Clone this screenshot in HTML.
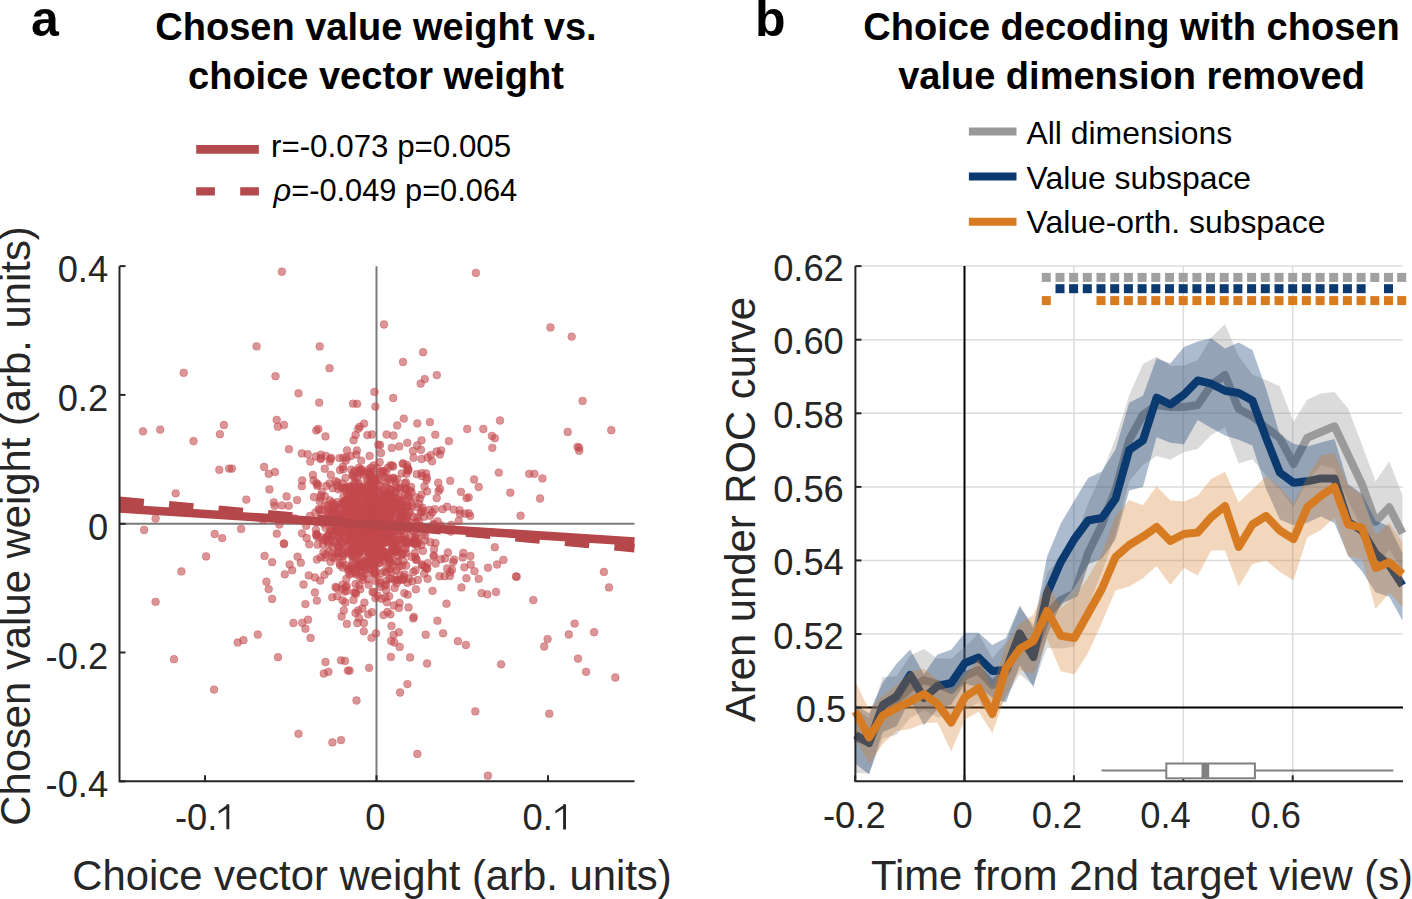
<!DOCTYPE html>
<html><head><meta charset="utf-8"><style>
html,body{margin:0;padding:0;background:#fff;width:1412px;height:899px;overflow:hidden}
svg{display:block}
text{font-family:'Liberation Sans', sans-serif}
</style></head><body>
<svg width="1412" height="899" viewBox="0 0 1412 899">
<rect width="1412" height="899" fill="#fff"/>
<text x="31" y="36" font-size="50" font-weight="bold" fill="#000">a</text>
<text x="376" y="40" font-size="38" font-weight="bold" text-anchor="middle" fill="#000">Chosen value weight vs.</text>
<text x="376" y="89" font-size="38" font-weight="bold" text-anchor="middle" fill="#000">choice vector weight</text>
<line x1="196.2" y1="149.4" x2="258.9" y2="149.4" stroke="#b34a4e" stroke-width="8.6"/>
<line x1="196.2" y1="191.3" x2="258.9" y2="191.3" stroke="#b34a4e" stroke-width="8.2" stroke-dasharray="18.7 25.3"/>
<text x="271" y="157" font-size="31.3" fill="#000">r=-0.073 p=0.005</text>
<text x="273.5" y="201" font-size="30.8" fill="#000"><tspan font-style="italic">&#961;</tspan>=-0.049 p=0.064</text>
<line x1="119.5" y1="523.75" x2="634.5" y2="523.75" stroke="#7a7a7a" stroke-width="2"/>
<line x1="376.5" y1="266.2" x2="376.5" y2="781.3" stroke="#7a7a7a" stroke-width="2"/>
<g fill="rgba(194,72,76,0.58)" stroke="rgba(194,72,76,0.35)" stroke-width="1">
<circle cx="281.9" cy="271.7" r="3.9"/>
<circle cx="475.9" cy="272.9" r="3.9"/>
<circle cx="384.0" cy="324.5" r="3.9"/>
<circle cx="550.5" cy="327.4" r="3.9"/>
<circle cx="571.7" cy="336.6" r="3.9"/>
<circle cx="256.6" cy="346.4" r="3.9"/>
<circle cx="319.7" cy="346.4" r="3.9"/>
<circle cx="329.5" cy="368.2" r="3.9"/>
<circle cx="183.7" cy="372.8" r="3.9"/>
<circle cx="275.5" cy="376.2" r="3.9"/>
<circle cx="424.8" cy="379.1" r="3.9"/>
<circle cx="436.8" cy="375.1" r="3.9"/>
<circle cx="582.6" cy="400.9" r="3.9"/>
<circle cx="319.2" cy="402.6" r="3.9"/>
<circle cx="357.1" cy="403.8" r="3.9"/>
<circle cx="393.2" cy="398.0" r="3.9"/>
<circle cx="375.4" cy="406.6" r="3.9"/>
<circle cx="276.7" cy="419.8" r="3.9"/>
<circle cx="277.8" cy="426.7" r="3.9"/>
<circle cx="223.9" cy="425.0" r="3.9"/>
<circle cx="219.9" cy="434.2" r="3.9"/>
<circle cx="143.0" cy="431.3" r="3.9"/>
<circle cx="160.2" cy="429.6" r="3.9"/>
<circle cx="193.5" cy="441.1" r="3.9"/>
<circle cx="611.3" cy="430.2" r="3.9"/>
<circle cx="567.7" cy="431.9" r="3.9"/>
<circle cx="577.5" cy="446.8" r="3.9"/>
<circle cx="579.2" cy="450.8" r="3.9"/>
<circle cx="483.3" cy="429.0" r="3.9"/>
<circle cx="491.9" cy="435.9" r="3.9"/>
<circle cx="494.8" cy="438.2" r="3.9"/>
<circle cx="448.9" cy="441.1" r="3.9"/>
<circle cx="429.9" cy="422.1" r="3.9"/>
<circle cx="231.9" cy="468.6" r="3.9"/>
<circle cx="229.1" cy="468.6" r="3.9"/>
<circle cx="219.3" cy="469.8" r="3.9"/>
<circle cx="264.1" cy="466.9" r="3.9"/>
<circle cx="268.7" cy="473.8" r="3.9"/>
<circle cx="175.7" cy="493.3" r="3.9"/>
<circle cx="246.3" cy="499.6" r="3.9"/>
<circle cx="273.8" cy="502.5" r="3.9"/>
<circle cx="529.2" cy="473.8" r="3.9"/>
<circle cx="534.4" cy="473.8" r="3.9"/>
<circle cx="542.4" cy="478.4" r="3.9"/>
<circle cx="540.1" cy="498.5" r="3.9"/>
<circle cx="520.6" cy="515.7" r="3.9"/>
<circle cx="498.8" cy="472.6" r="3.9"/>
<circle cx="510.3" cy="492.7" r="3.9"/>
<circle cx="474.1" cy="479.5" r="3.9"/>
<circle cx="478.7" cy="487.0" r="3.9"/>
<circle cx="155.6" cy="518.5" r="3.9"/>
<circle cx="144.1" cy="530.0" r="3.9"/>
<circle cx="214.7" cy="534.0" r="3.9"/>
<circle cx="222.2" cy="538.1" r="3.9"/>
<circle cx="241.1" cy="528.9" r="3.9"/>
<circle cx="206.1" cy="556.4" r="3.9"/>
<circle cx="181.4" cy="571.4" r="3.9"/>
<circle cx="264.6" cy="555.9" r="3.9"/>
<circle cx="272.1" cy="562.2" r="3.9"/>
<circle cx="292.2" cy="570.2" r="3.9"/>
<circle cx="155.6" cy="601.8" r="3.9"/>
<circle cx="266.4" cy="581.7" r="3.9"/>
<circle cx="268.7" cy="589.1" r="3.9"/>
<circle cx="272.1" cy="598.9" r="3.9"/>
<circle cx="257.8" cy="634.5" r="3.9"/>
<circle cx="237.7" cy="642.5" r="3.9"/>
<circle cx="243.4" cy="640.2" r="3.9"/>
<circle cx="174.0" cy="659.2" r="3.9"/>
<circle cx="214.1" cy="689.6" r="3.9"/>
<circle cx="305.4" cy="628.7" r="3.9"/>
<circle cx="310.6" cy="637.9" r="3.9"/>
<circle cx="325.5" cy="662.0" r="3.9"/>
<circle cx="323.8" cy="673.5" r="3.9"/>
<circle cx="328.4" cy="671.8" r="3.9"/>
<circle cx="341.0" cy="660.3" r="3.9"/>
<circle cx="345.0" cy="660.9" r="3.9"/>
<circle cx="347.9" cy="670.6" r="3.9"/>
<circle cx="349.6" cy="670.6" r="3.9"/>
<circle cx="369.1" cy="667.8" r="3.9"/>
<circle cx="356.5" cy="700.5" r="3.9"/>
<circle cx="298.5" cy="733.8" r="3.9"/>
<circle cx="332.4" cy="742.4" r="3.9"/>
<circle cx="341.0" cy="740.1" r="3.9"/>
<circle cx="400.1" cy="692.5" r="3.9"/>
<circle cx="417.3" cy="753.9" r="3.9"/>
<circle cx="487.9" cy="775.7" r="3.9"/>
<circle cx="475.3" cy="711.4" r="3.9"/>
<circle cx="549.3" cy="713.7" r="3.9"/>
<circle cx="501.1" cy="664.3" r="3.9"/>
<circle cx="544.2" cy="646.5" r="3.9"/>
<circle cx="547.6" cy="639.1" r="3.9"/>
<circle cx="568.8" cy="634.5" r="3.9"/>
<circle cx="594.1" cy="632.2" r="3.9"/>
<circle cx="574.6" cy="623.6" r="3.9"/>
<circle cx="578.0" cy="658.6" r="3.9"/>
<circle cx="586.1" cy="671.8" r="3.9"/>
<circle cx="615.3" cy="677.5" r="3.9"/>
<circle cx="609.0" cy="587.4" r="3.9"/>
<circle cx="603.9" cy="571.9" r="3.9"/>
<circle cx="533.3" cy="600.1" r="3.9"/>
<circle cx="516.0" cy="576.5" r="3.9"/>
<circle cx="503.4" cy="559.9" r="3.9"/>
<circle cx="494.8" cy="547.2" r="3.9"/>
<circle cx="497.1" cy="564.5" r="3.9"/>
<circle cx="478.7" cy="578.8" r="3.9"/>
<circle cx="481.6" cy="593.2" r="3.9"/>
<circle cx="487.3" cy="594.3" r="3.9"/>
<circle cx="496.0" cy="592.0" r="3.9"/>
<circle cx="461.5" cy="587.4" r="3.9"/>
<circle cx="437.4" cy="620.7" r="3.9"/>
<circle cx="443.1" cy="633.3" r="3.9"/>
<circle cx="413.3" cy="618.4" r="3.9"/>
<circle cx="391.5" cy="625.9" r="3.9"/>
<circle cx="398.9" cy="632.2" r="3.9"/>
<circle cx="394.4" cy="642.5" r="3.9"/>
<circle cx="390.9" cy="656.9" r="3.9"/>
<circle cx="376.0" cy="633.3" r="3.9"/>
<circle cx="363.9" cy="623.0" r="3.9"/>
<circle cx="358.2" cy="610.4" r="3.9"/>
<circle cx="343.8" cy="610.4" r="3.9"/>
<circle cx="316.9" cy="600.6" r="3.9"/>
<circle cx="305.4" cy="604.1" r="3.9"/>
<circle cx="470.7" cy="564.5" r="3.9"/>
<circle cx="464.4" cy="567.3" r="3.9"/>
<circle cx="450.0" cy="575.9" r="3.9"/>
<circle cx="447.2" cy="568.5" r="3.9"/>
<circle cx="374.5" cy="518.5" r="3.9"/>
<circle cx="380.8" cy="537.0" r="3.9"/>
<circle cx="368.7" cy="541.2" r="3.9"/>
<circle cx="355.8" cy="497.5" r="3.9"/>
<circle cx="365.0" cy="519.3" r="3.9"/>
<circle cx="353.7" cy="546.3" r="3.9"/>
<circle cx="375.8" cy="530.7" r="3.9"/>
<circle cx="402.6" cy="527.2" r="3.9"/>
<circle cx="364.2" cy="561.5" r="3.9"/>
<circle cx="361.5" cy="508.0" r="3.9"/>
<circle cx="384.8" cy="526.2" r="3.9"/>
<circle cx="382.0" cy="511.8" r="3.9"/>
<circle cx="376.7" cy="560.0" r="3.9"/>
<circle cx="355.0" cy="477.4" r="3.9"/>
<circle cx="373.9" cy="508.2" r="3.9"/>
<circle cx="389.1" cy="511.6" r="3.9"/>
<circle cx="346.3" cy="540.2" r="3.9"/>
<circle cx="364.9" cy="538.8" r="3.9"/>
<circle cx="334.6" cy="557.7" r="3.9"/>
<circle cx="347.4" cy="486.5" r="3.9"/>
<circle cx="335.8" cy="542.3" r="3.9"/>
<circle cx="369.6" cy="517.2" r="3.9"/>
<circle cx="347.9" cy="508.3" r="3.9"/>
<circle cx="380.2" cy="537.2" r="3.9"/>
<circle cx="377.8" cy="502.2" r="3.9"/>
<circle cx="370.6" cy="474.4" r="3.9"/>
<circle cx="321.6" cy="515.4" r="3.9"/>
<circle cx="363.2" cy="488.3" r="3.9"/>
<circle cx="373.5" cy="508.7" r="3.9"/>
<circle cx="376.9" cy="533.2" r="3.9"/>
<circle cx="342.4" cy="531.7" r="3.9"/>
<circle cx="364.5" cy="562.3" r="3.9"/>
<circle cx="354.0" cy="519.5" r="3.9"/>
<circle cx="357.5" cy="487.5" r="3.9"/>
<circle cx="396.8" cy="506.1" r="3.9"/>
<circle cx="357.5" cy="502.2" r="3.9"/>
<circle cx="373.8" cy="495.0" r="3.9"/>
<circle cx="393.1" cy="534.7" r="3.9"/>
<circle cx="362.2" cy="508.8" r="3.9"/>
<circle cx="372.2" cy="476.8" r="3.9"/>
<circle cx="376.8" cy="541.0" r="3.9"/>
<circle cx="375.8" cy="521.6" r="3.9"/>
<circle cx="348.8" cy="532.8" r="3.9"/>
<circle cx="376.1" cy="526.8" r="3.9"/>
<circle cx="403.0" cy="539.4" r="3.9"/>
<circle cx="342.0" cy="525.2" r="3.9"/>
<circle cx="392.5" cy="553.9" r="3.9"/>
<circle cx="377.0" cy="534.4" r="3.9"/>
<circle cx="361.0" cy="533.7" r="3.9"/>
<circle cx="416.5" cy="534.1" r="3.9"/>
<circle cx="390.5" cy="489.3" r="3.9"/>
<circle cx="349.3" cy="520.3" r="3.9"/>
<circle cx="376.1" cy="518.0" r="3.9"/>
<circle cx="386.6" cy="529.2" r="3.9"/>
<circle cx="370.5" cy="491.6" r="3.9"/>
<circle cx="388.8" cy="563.5" r="3.9"/>
<circle cx="373.1" cy="526.8" r="3.9"/>
<circle cx="388.5" cy="495.2" r="3.9"/>
<circle cx="404.7" cy="483.2" r="3.9"/>
<circle cx="360.3" cy="517.5" r="3.9"/>
<circle cx="378.8" cy="522.1" r="3.9"/>
<circle cx="364.8" cy="507.0" r="3.9"/>
<circle cx="377.2" cy="526.5" r="3.9"/>
<circle cx="349.6" cy="508.9" r="3.9"/>
<circle cx="362.3" cy="537.5" r="3.9"/>
<circle cx="370.4" cy="506.9" r="3.9"/>
<circle cx="393.4" cy="523.3" r="3.9"/>
<circle cx="398.5" cy="547.7" r="3.9"/>
<circle cx="346.7" cy="586.0" r="3.9"/>
<circle cx="357.8" cy="500.1" r="3.9"/>
<circle cx="388.1" cy="513.1" r="3.9"/>
<circle cx="332.7" cy="504.1" r="3.9"/>
<circle cx="364.8" cy="543.1" r="3.9"/>
<circle cx="372.5" cy="496.7" r="3.9"/>
<circle cx="400.9" cy="512.6" r="3.9"/>
<circle cx="389.0" cy="523.5" r="3.9"/>
<circle cx="367.6" cy="500.8" r="3.9"/>
<circle cx="366.8" cy="501.3" r="3.9"/>
<circle cx="369.2" cy="512.8" r="3.9"/>
<circle cx="406.5" cy="473.8" r="3.9"/>
<circle cx="365.5" cy="489.6" r="3.9"/>
<circle cx="368.1" cy="514.3" r="3.9"/>
<circle cx="381.9" cy="527.8" r="3.9"/>
<circle cx="372.0" cy="519.8" r="3.9"/>
<circle cx="370.4" cy="481.7" r="3.9"/>
<circle cx="351.1" cy="513.1" r="3.9"/>
<circle cx="374.3" cy="543.4" r="3.9"/>
<circle cx="365.2" cy="537.6" r="3.9"/>
<circle cx="399.0" cy="522.4" r="3.9"/>
<circle cx="388.2" cy="503.0" r="3.9"/>
<circle cx="374.0" cy="539.4" r="3.9"/>
<circle cx="388.5" cy="510.4" r="3.9"/>
<circle cx="367.4" cy="496.2" r="3.9"/>
<circle cx="396.6" cy="505.0" r="3.9"/>
<circle cx="374.4" cy="559.0" r="3.9"/>
<circle cx="386.8" cy="529.5" r="3.9"/>
<circle cx="347.4" cy="552.1" r="3.9"/>
<circle cx="381.8" cy="512.7" r="3.9"/>
<circle cx="339.0" cy="546.8" r="3.9"/>
<circle cx="331.8" cy="509.8" r="3.9"/>
<circle cx="368.1" cy="520.5" r="3.9"/>
<circle cx="355.6" cy="583.9" r="3.9"/>
<circle cx="377.9" cy="542.7" r="3.9"/>
<circle cx="421.6" cy="512.2" r="3.9"/>
<circle cx="357.0" cy="522.2" r="3.9"/>
<circle cx="361.4" cy="532.1" r="3.9"/>
<circle cx="378.8" cy="553.3" r="3.9"/>
<circle cx="384.9" cy="512.5" r="3.9"/>
<circle cx="370.8" cy="482.5" r="3.9"/>
<circle cx="370.2" cy="517.5" r="3.9"/>
<circle cx="389.3" cy="524.6" r="3.9"/>
<circle cx="385.4" cy="526.9" r="3.9"/>
<circle cx="352.8" cy="555.9" r="3.9"/>
<circle cx="372.8" cy="531.9" r="3.9"/>
<circle cx="375.2" cy="543.8" r="3.9"/>
<circle cx="352.4" cy="497.8" r="3.9"/>
<circle cx="380.0" cy="545.1" r="3.9"/>
<circle cx="356.5" cy="574.6" r="3.9"/>
<circle cx="394.9" cy="542.8" r="3.9"/>
<circle cx="378.5" cy="530.3" r="3.9"/>
<circle cx="376.4" cy="527.9" r="3.9"/>
<circle cx="362.1" cy="567.1" r="3.9"/>
<circle cx="372.0" cy="502.0" r="3.9"/>
<circle cx="332.5" cy="521.6" r="3.9"/>
<circle cx="350.7" cy="535.3" r="3.9"/>
<circle cx="382.1" cy="542.1" r="3.9"/>
<circle cx="329.8" cy="513.8" r="3.9"/>
<circle cx="392.3" cy="531.6" r="3.9"/>
<circle cx="337.8" cy="517.6" r="3.9"/>
<circle cx="390.4" cy="527.1" r="3.9"/>
<circle cx="356.7" cy="521.1" r="3.9"/>
<circle cx="390.9" cy="496.9" r="3.9"/>
<circle cx="377.2" cy="523.7" r="3.9"/>
<circle cx="342.2" cy="545.3" r="3.9"/>
<circle cx="400.7" cy="501.0" r="3.9"/>
<circle cx="404.8" cy="518.5" r="3.9"/>
<circle cx="373.1" cy="540.2" r="3.9"/>
<circle cx="368.7" cy="498.6" r="3.9"/>
<circle cx="371.1" cy="528.6" r="3.9"/>
<circle cx="354.0" cy="498.8" r="3.9"/>
<circle cx="397.6" cy="551.5" r="3.9"/>
<circle cx="363.1" cy="579.8" r="3.9"/>
<circle cx="373.4" cy="572.8" r="3.9"/>
<circle cx="357.8" cy="519.0" r="3.9"/>
<circle cx="361.4" cy="542.0" r="3.9"/>
<circle cx="347.7" cy="527.2" r="3.9"/>
<circle cx="400.9" cy="526.7" r="3.9"/>
<circle cx="371.3" cy="561.4" r="3.9"/>
<circle cx="394.8" cy="492.6" r="3.9"/>
<circle cx="374.8" cy="549.6" r="3.9"/>
<circle cx="359.9" cy="523.1" r="3.9"/>
<circle cx="367.6" cy="558.1" r="3.9"/>
<circle cx="362.7" cy="528.7" r="3.9"/>
<circle cx="374.7" cy="508.1" r="3.9"/>
<circle cx="366.6" cy="530.9" r="3.9"/>
<circle cx="368.2" cy="541.9" r="3.9"/>
<circle cx="345.5" cy="525.1" r="3.9"/>
<circle cx="357.6" cy="536.0" r="3.9"/>
<circle cx="409.2" cy="511.7" r="3.9"/>
<circle cx="360.4" cy="473.0" r="3.9"/>
<circle cx="352.4" cy="545.9" r="3.9"/>
<circle cx="381.6" cy="541.0" r="3.9"/>
<circle cx="404.1" cy="527.8" r="3.9"/>
<circle cx="344.0" cy="525.9" r="3.9"/>
<circle cx="370.1" cy="549.1" r="3.9"/>
<circle cx="361.2" cy="513.3" r="3.9"/>
<circle cx="337.5" cy="507.3" r="3.9"/>
<circle cx="389.9" cy="519.7" r="3.9"/>
<circle cx="374.0" cy="552.8" r="3.9"/>
<circle cx="376.0" cy="491.0" r="3.9"/>
<circle cx="358.7" cy="552.9" r="3.9"/>
<circle cx="384.1" cy="508.9" r="3.9"/>
<circle cx="363.2" cy="497.8" r="3.9"/>
<circle cx="371.5" cy="554.5" r="3.9"/>
<circle cx="351.2" cy="521.9" r="3.9"/>
<circle cx="349.0" cy="493.0" r="3.9"/>
<circle cx="402.5" cy="515.6" r="3.9"/>
<circle cx="363.9" cy="546.6" r="3.9"/>
<circle cx="380.6" cy="552.9" r="3.9"/>
<circle cx="373.8" cy="514.0" r="3.9"/>
<circle cx="365.2" cy="534.0" r="3.9"/>
<circle cx="363.8" cy="541.4" r="3.9"/>
<circle cx="387.7" cy="508.8" r="3.9"/>
<circle cx="368.2" cy="532.8" r="3.9"/>
<circle cx="371.3" cy="523.5" r="3.9"/>
<circle cx="375.0" cy="511.4" r="3.9"/>
<circle cx="399.2" cy="512.4" r="3.9"/>
<circle cx="388.8" cy="525.9" r="3.9"/>
<circle cx="382.5" cy="525.0" r="3.9"/>
<circle cx="362.7" cy="510.7" r="3.9"/>
<circle cx="345.5" cy="514.0" r="3.9"/>
<circle cx="394.4" cy="551.0" r="3.9"/>
<circle cx="394.8" cy="529.4" r="3.9"/>
<circle cx="371.5" cy="545.5" r="3.9"/>
<circle cx="385.9" cy="553.1" r="3.9"/>
<circle cx="390.9" cy="538.4" r="3.9"/>
<circle cx="392.0" cy="578.8" r="3.9"/>
<circle cx="393.8" cy="504.4" r="3.9"/>
<circle cx="364.9" cy="543.7" r="3.9"/>
<circle cx="406.3" cy="516.6" r="3.9"/>
<circle cx="348.3" cy="568.8" r="3.9"/>
<circle cx="392.6" cy="565.1" r="3.9"/>
<circle cx="384.9" cy="477.3" r="3.9"/>
<circle cx="392.8" cy="501.0" r="3.9"/>
<circle cx="414.0" cy="540.2" r="3.9"/>
<circle cx="405.7" cy="543.2" r="3.9"/>
<circle cx="350.5" cy="541.9" r="3.9"/>
<circle cx="339.0" cy="522.5" r="3.9"/>
<circle cx="391.7" cy="535.2" r="3.9"/>
<circle cx="353.2" cy="539.9" r="3.9"/>
<circle cx="374.2" cy="522.4" r="3.9"/>
<circle cx="392.1" cy="548.9" r="3.9"/>
<circle cx="340.0" cy="470.0" r="3.9"/>
<circle cx="330.2" cy="539.5" r="3.9"/>
<circle cx="379.9" cy="499.4" r="3.9"/>
<circle cx="375.4" cy="547.3" r="3.9"/>
<circle cx="369.3" cy="518.8" r="3.9"/>
<circle cx="375.3" cy="502.9" r="3.9"/>
<circle cx="356.4" cy="533.2" r="3.9"/>
<circle cx="342.7" cy="502.4" r="3.9"/>
<circle cx="371.0" cy="502.3" r="3.9"/>
<circle cx="354.1" cy="486.6" r="3.9"/>
<circle cx="340.0" cy="523.6" r="3.9"/>
<circle cx="385.1" cy="536.2" r="3.9"/>
<circle cx="373.2" cy="548.8" r="3.9"/>
<circle cx="383.0" cy="520.8" r="3.9"/>
<circle cx="353.7" cy="549.4" r="3.9"/>
<circle cx="360.7" cy="524.7" r="3.9"/>
<circle cx="353.5" cy="522.0" r="3.9"/>
<circle cx="355.9" cy="538.0" r="3.9"/>
<circle cx="378.6" cy="549.7" r="3.9"/>
<circle cx="358.1" cy="516.1" r="3.9"/>
<circle cx="382.0" cy="518.4" r="3.9"/>
<circle cx="381.6" cy="520.4" r="3.9"/>
<circle cx="417.0" cy="526.2" r="3.9"/>
<circle cx="345.3" cy="502.6" r="3.9"/>
<circle cx="393.1" cy="548.9" r="3.9"/>
<circle cx="372.6" cy="514.6" r="3.9"/>
<circle cx="374.2" cy="535.3" r="3.9"/>
<circle cx="344.1" cy="504.4" r="3.9"/>
<circle cx="364.8" cy="532.9" r="3.9"/>
<circle cx="390.1" cy="533.6" r="3.9"/>
<circle cx="372.8" cy="514.2" r="3.9"/>
<circle cx="376.2" cy="572.8" r="3.9"/>
<circle cx="368.4" cy="533.2" r="3.9"/>
<circle cx="398.7" cy="566.9" r="3.9"/>
<circle cx="374.0" cy="547.3" r="3.9"/>
<circle cx="328.3" cy="508.4" r="3.9"/>
<circle cx="360.0" cy="515.1" r="3.9"/>
<circle cx="333.2" cy="534.7" r="3.9"/>
<circle cx="306.2" cy="525.7" r="3.9"/>
<circle cx="363.4" cy="525.4" r="3.9"/>
<circle cx="402.5" cy="517.4" r="3.9"/>
<circle cx="375.5" cy="480.8" r="3.9"/>
<circle cx="349.9" cy="518.8" r="3.9"/>
<circle cx="354.7" cy="471.0" r="3.9"/>
<circle cx="398.2" cy="533.2" r="3.9"/>
<circle cx="377.8" cy="506.8" r="3.9"/>
<circle cx="375.5" cy="507.1" r="3.9"/>
<circle cx="373.4" cy="519.0" r="3.9"/>
<circle cx="375.3" cy="530.8" r="3.9"/>
<circle cx="391.4" cy="489.9" r="3.9"/>
<circle cx="386.1" cy="482.3" r="3.9"/>
<circle cx="379.0" cy="498.7" r="3.9"/>
<circle cx="352.6" cy="475.2" r="3.9"/>
<circle cx="385.2" cy="501.0" r="3.9"/>
<circle cx="360.1" cy="562.4" r="3.9"/>
<circle cx="397.5" cy="498.9" r="3.9"/>
<circle cx="347.8" cy="539.9" r="3.9"/>
<circle cx="371.6" cy="491.3" r="3.9"/>
<circle cx="374.3" cy="531.4" r="3.9"/>
<circle cx="346.7" cy="516.6" r="3.9"/>
<circle cx="410.7" cy="522.8" r="3.9"/>
<circle cx="405.2" cy="537.9" r="3.9"/>
<circle cx="364.8" cy="566.4" r="3.9"/>
<circle cx="390.7" cy="528.9" r="3.9"/>
<circle cx="382.5" cy="527.2" r="3.9"/>
<circle cx="319.6" cy="500.9" r="3.9"/>
<circle cx="379.8" cy="538.3" r="3.9"/>
<circle cx="373.2" cy="518.3" r="3.9"/>
<circle cx="376.2" cy="544.2" r="3.9"/>
<circle cx="351.9" cy="523.2" r="3.9"/>
<circle cx="368.8" cy="566.0" r="3.9"/>
<circle cx="370.8" cy="476.7" r="3.9"/>
<circle cx="399.4" cy="517.1" r="3.9"/>
<circle cx="381.5" cy="545.4" r="3.9"/>
<circle cx="374.4" cy="515.8" r="3.9"/>
<circle cx="406.6" cy="505.2" r="3.9"/>
<circle cx="362.8" cy="517.9" r="3.9"/>
<circle cx="366.3" cy="491.1" r="3.9"/>
<circle cx="336.3" cy="527.1" r="3.9"/>
<circle cx="407.5" cy="582.8" r="3.9"/>
<circle cx="394.8" cy="551.7" r="3.9"/>
<circle cx="393.8" cy="497.6" r="3.9"/>
<circle cx="388.5" cy="503.3" r="3.9"/>
<circle cx="376.8" cy="514.5" r="3.9"/>
<circle cx="379.0" cy="548.4" r="3.9"/>
<circle cx="369.2" cy="504.5" r="3.9"/>
<circle cx="370.2" cy="507.7" r="3.9"/>
<circle cx="375.6" cy="545.5" r="3.9"/>
<circle cx="406.2" cy="545.0" r="3.9"/>
<circle cx="386.2" cy="515.3" r="3.9"/>
<circle cx="373.3" cy="497.4" r="3.9"/>
<circle cx="362.3" cy="487.1" r="3.9"/>
<circle cx="361.2" cy="507.5" r="3.9"/>
<circle cx="408.2" cy="470.7" r="3.9"/>
<circle cx="385.1" cy="542.2" r="3.9"/>
<circle cx="375.9" cy="509.1" r="3.9"/>
<circle cx="367.2" cy="535.8" r="3.9"/>
<circle cx="351.2" cy="569.1" r="3.9"/>
<circle cx="373.1" cy="552.4" r="3.9"/>
<circle cx="392.8" cy="496.6" r="3.9"/>
<circle cx="366.3" cy="545.1" r="3.9"/>
<circle cx="369.7" cy="552.0" r="3.9"/>
<circle cx="369.9" cy="506.3" r="3.9"/>
<circle cx="376.8" cy="501.4" r="3.9"/>
<circle cx="341.0" cy="521.6" r="3.9"/>
<circle cx="369.6" cy="485.8" r="3.9"/>
<circle cx="356.6" cy="559.5" r="3.9"/>
<circle cx="393.1" cy="466.5" r="3.9"/>
<circle cx="358.3" cy="497.7" r="3.9"/>
<circle cx="386.6" cy="517.8" r="3.9"/>
<circle cx="406.5" cy="518.8" r="3.9"/>
<circle cx="367.9" cy="528.2" r="3.9"/>
<circle cx="361.9" cy="530.8" r="3.9"/>
<circle cx="378.5" cy="519.1" r="3.9"/>
<circle cx="374.5" cy="551.5" r="3.9"/>
<circle cx="353.6" cy="472.9" r="3.9"/>
<circle cx="384.2" cy="524.2" r="3.9"/>
<circle cx="416.8" cy="507.1" r="3.9"/>
<circle cx="369.1" cy="527.4" r="3.9"/>
<circle cx="370.2" cy="529.5" r="3.9"/>
<circle cx="352.6" cy="502.4" r="3.9"/>
<circle cx="381.2" cy="508.9" r="3.9"/>
<circle cx="348.3" cy="543.3" r="3.9"/>
<circle cx="351.3" cy="532.6" r="3.9"/>
<circle cx="401.4" cy="507.9" r="3.9"/>
<circle cx="355.5" cy="573.2" r="3.9"/>
<circle cx="397.2" cy="579.7" r="3.9"/>
<circle cx="406.5" cy="489.2" r="3.9"/>
<circle cx="379.9" cy="531.5" r="3.9"/>
<circle cx="386.1" cy="584.5" r="3.9"/>
<circle cx="415.5" cy="543.1" r="3.9"/>
<circle cx="370.4" cy="529.6" r="3.9"/>
<circle cx="362.0" cy="519.3" r="3.9"/>
<circle cx="346.1" cy="511.3" r="3.9"/>
<circle cx="375.4" cy="519.1" r="3.9"/>
<circle cx="405.6" cy="511.0" r="3.9"/>
<circle cx="394.7" cy="542.1" r="3.9"/>
<circle cx="354.7" cy="514.7" r="3.9"/>
<circle cx="356.5" cy="513.7" r="3.9"/>
<circle cx="363.9" cy="495.4" r="3.9"/>
<circle cx="380.6" cy="523.1" r="3.9"/>
<circle cx="370.2" cy="502.8" r="3.9"/>
<circle cx="379.0" cy="519.9" r="3.9"/>
<circle cx="380.7" cy="549.3" r="3.9"/>
<circle cx="368.2" cy="533.0" r="3.9"/>
<circle cx="373.7" cy="536.4" r="3.9"/>
<circle cx="378.8" cy="532.8" r="3.9"/>
<circle cx="372.7" cy="525.7" r="3.9"/>
<circle cx="385.1" cy="521.2" r="3.9"/>
<circle cx="413.8" cy="516.9" r="3.9"/>
<circle cx="386.9" cy="542.5" r="3.9"/>
<circle cx="375.7" cy="498.2" r="3.9"/>
<circle cx="339.1" cy="556.4" r="3.9"/>
<circle cx="382.6" cy="525.1" r="3.9"/>
<circle cx="333.6" cy="506.3" r="3.9"/>
<circle cx="344.9" cy="512.5" r="3.9"/>
<circle cx="392.4" cy="508.0" r="3.9"/>
<circle cx="389.3" cy="528.1" r="3.9"/>
<circle cx="371.4" cy="507.0" r="3.9"/>
<circle cx="338.6" cy="551.7" r="3.9"/>
<circle cx="366.7" cy="505.5" r="3.9"/>
<circle cx="360.2" cy="469.7" r="3.9"/>
<circle cx="387.9" cy="506.7" r="3.9"/>
<circle cx="421.9" cy="476.0" r="3.9"/>
<circle cx="379.1" cy="523.3" r="3.9"/>
<circle cx="358.1" cy="549.7" r="3.9"/>
<circle cx="349.9" cy="539.8" r="3.9"/>
<circle cx="373.3" cy="492.1" r="3.9"/>
<circle cx="370.8" cy="506.0" r="3.9"/>
<circle cx="350.3" cy="566.9" r="3.9"/>
<circle cx="376.9" cy="531.9" r="3.9"/>
<circle cx="350.3" cy="524.3" r="3.9"/>
<circle cx="397.9" cy="549.6" r="3.9"/>
<circle cx="396.8" cy="583.1" r="3.9"/>
<circle cx="397.3" cy="555.4" r="3.9"/>
<circle cx="364.5" cy="527.6" r="3.9"/>
<circle cx="385.3" cy="532.8" r="3.9"/>
<circle cx="371.7" cy="539.1" r="3.9"/>
<circle cx="366.3" cy="509.5" r="3.9"/>
<circle cx="367.4" cy="498.8" r="3.9"/>
<circle cx="347.2" cy="525.5" r="3.9"/>
<circle cx="344.2" cy="501.5" r="3.9"/>
<circle cx="391.2" cy="522.8" r="3.9"/>
<circle cx="370.5" cy="526.6" r="3.9"/>
<circle cx="379.0" cy="580.4" r="3.9"/>
<circle cx="395.5" cy="503.8" r="3.9"/>
<circle cx="338.1" cy="521.3" r="3.9"/>
<circle cx="358.0" cy="520.3" r="3.9"/>
<circle cx="378.2" cy="534.7" r="3.9"/>
<circle cx="382.7" cy="549.4" r="3.9"/>
<circle cx="366.6" cy="512.5" r="3.9"/>
<circle cx="396.1" cy="504.5" r="3.9"/>
<circle cx="378.9" cy="484.9" r="3.9"/>
<circle cx="349.0" cy="502.0" r="3.9"/>
<circle cx="355.0" cy="537.1" r="3.9"/>
<circle cx="391.4" cy="525.3" r="3.9"/>
<circle cx="384.2" cy="499.9" r="3.9"/>
<circle cx="334.6" cy="515.3" r="3.9"/>
<circle cx="402.8" cy="525.0" r="3.9"/>
<circle cx="387.1" cy="536.3" r="3.9"/>
<circle cx="402.7" cy="510.0" r="3.9"/>
<circle cx="366.4" cy="518.2" r="3.9"/>
<circle cx="368.3" cy="480.6" r="3.9"/>
<circle cx="350.8" cy="496.6" r="3.9"/>
<circle cx="427.8" cy="563.1" r="3.9"/>
<circle cx="370.8" cy="471.7" r="3.9"/>
<circle cx="407.8" cy="516.1" r="3.9"/>
<circle cx="360.9" cy="529.5" r="3.9"/>
<circle cx="377.9" cy="515.3" r="3.9"/>
<circle cx="339.4" cy="504.9" r="3.9"/>
<circle cx="366.5" cy="522.8" r="3.9"/>
<circle cx="395.2" cy="524.1" r="3.9"/>
<circle cx="348.2" cy="522.3" r="3.9"/>
<circle cx="397.0" cy="479.2" r="3.9"/>
<circle cx="381.6" cy="520.7" r="3.9"/>
<circle cx="352.6" cy="503.7" r="3.9"/>
<circle cx="364.0" cy="511.1" r="3.9"/>
<circle cx="364.9" cy="529.7" r="3.9"/>
<circle cx="373.5" cy="539.6" r="3.9"/>
<circle cx="363.2" cy="545.8" r="3.9"/>
<circle cx="357.1" cy="512.3" r="3.9"/>
<circle cx="368.1" cy="546.4" r="3.9"/>
<circle cx="352.9" cy="552.4" r="3.9"/>
<circle cx="347.4" cy="551.5" r="3.9"/>
<circle cx="373.5" cy="557.6" r="3.9"/>
<circle cx="393.0" cy="520.8" r="3.9"/>
<circle cx="342.4" cy="520.1" r="3.9"/>
<circle cx="374.6" cy="544.1" r="3.9"/>
<circle cx="360.9" cy="491.5" r="3.9"/>
<circle cx="354.0" cy="529.3" r="3.9"/>
<circle cx="392.4" cy="511.5" r="3.9"/>
<circle cx="363.6" cy="515.4" r="3.9"/>
<circle cx="406.0" cy="482.5" r="3.9"/>
<circle cx="358.1" cy="502.9" r="3.9"/>
<circle cx="382.6" cy="523.8" r="3.9"/>
<circle cx="369.7" cy="545.6" r="3.9"/>
<circle cx="358.7" cy="548.0" r="3.9"/>
<circle cx="386.8" cy="522.3" r="3.9"/>
<circle cx="371.2" cy="519.7" r="3.9"/>
<circle cx="387.2" cy="504.3" r="3.9"/>
<circle cx="373.5" cy="533.9" r="3.9"/>
<circle cx="351.7" cy="518.3" r="3.9"/>
<circle cx="372.4" cy="538.8" r="3.9"/>
<circle cx="375.6" cy="566.3" r="3.9"/>
<circle cx="394.6" cy="523.5" r="3.9"/>
<circle cx="355.5" cy="488.3" r="3.9"/>
<circle cx="373.7" cy="503.6" r="3.9"/>
<circle cx="338.3" cy="489.3" r="3.9"/>
<circle cx="388.2" cy="495.5" r="3.9"/>
<circle cx="351.8" cy="555.6" r="3.9"/>
<circle cx="336.6" cy="529.7" r="3.9"/>
<circle cx="373.3" cy="487.8" r="3.9"/>
<circle cx="397.7" cy="539.9" r="3.9"/>
<circle cx="342.5" cy="554.5" r="3.9"/>
<circle cx="351.7" cy="515.6" r="3.9"/>
<circle cx="358.9" cy="508.0" r="3.9"/>
<circle cx="350.8" cy="516.2" r="3.9"/>
<circle cx="382.5" cy="531.1" r="3.9"/>
<circle cx="357.5" cy="539.6" r="3.9"/>
<circle cx="359.3" cy="552.6" r="3.9"/>
<circle cx="386.7" cy="553.3" r="3.9"/>
<circle cx="358.6" cy="552.7" r="3.9"/>
<circle cx="383.6" cy="556.9" r="3.9"/>
<circle cx="354.1" cy="540.1" r="3.9"/>
<circle cx="349.0" cy="487.5" r="3.9"/>
<circle cx="336.0" cy="521.1" r="3.9"/>
<circle cx="413.6" cy="531.8" r="3.9"/>
<circle cx="367.8" cy="515.1" r="3.9"/>
<circle cx="379.6" cy="546.1" r="3.9"/>
<circle cx="373.8" cy="515.6" r="3.9"/>
<circle cx="377.9" cy="502.0" r="3.9"/>
<circle cx="375.5" cy="558.9" r="3.9"/>
<circle cx="414.6" cy="540.2" r="3.9"/>
<circle cx="352.7" cy="529.5" r="3.9"/>
<circle cx="341.8" cy="546.5" r="3.9"/>
<circle cx="353.2" cy="549.8" r="3.9"/>
<circle cx="346.5" cy="532.4" r="3.9"/>
<circle cx="390.2" cy="465.3" r="3.9"/>
<circle cx="391.7" cy="508.0" r="3.9"/>
<circle cx="354.3" cy="513.3" r="3.9"/>
<circle cx="345.3" cy="500.6" r="3.9"/>
<circle cx="367.0" cy="529.0" r="3.9"/>
<circle cx="403.7" cy="552.9" r="3.9"/>
<circle cx="315.3" cy="512.6" r="3.9"/>
<circle cx="385.6" cy="497.0" r="3.9"/>
<circle cx="351.9" cy="572.9" r="3.9"/>
<circle cx="396.3" cy="513.4" r="3.9"/>
<circle cx="351.9" cy="494.7" r="3.9"/>
<circle cx="368.5" cy="530.0" r="3.9"/>
<circle cx="342.9" cy="534.5" r="3.9"/>
<circle cx="354.0" cy="507.3" r="3.9"/>
<circle cx="403.6" cy="543.2" r="3.9"/>
<circle cx="391.7" cy="512.6" r="3.9"/>
<circle cx="366.1" cy="502.1" r="3.9"/>
<circle cx="356.2" cy="528.5" r="3.9"/>
<circle cx="334.7" cy="542.7" r="3.9"/>
<circle cx="366.2" cy="509.0" r="3.9"/>
<circle cx="373.9" cy="532.2" r="3.9"/>
<circle cx="372.7" cy="522.0" r="3.9"/>
<circle cx="372.5" cy="592.0" r="3.9"/>
<circle cx="350.9" cy="507.2" r="3.9"/>
<circle cx="373.1" cy="557.5" r="3.9"/>
<circle cx="373.7" cy="523.0" r="3.9"/>
<circle cx="401.6" cy="521.2" r="3.9"/>
<circle cx="413.7" cy="541.6" r="3.9"/>
<circle cx="371.6" cy="545.7" r="3.9"/>
<circle cx="358.4" cy="554.7" r="3.9"/>
<circle cx="373.1" cy="532.1" r="3.9"/>
<circle cx="361.7" cy="509.8" r="3.9"/>
<circle cx="358.9" cy="511.3" r="3.9"/>
<circle cx="373.3" cy="536.5" r="3.9"/>
<circle cx="352.6" cy="538.2" r="3.9"/>
<circle cx="387.2" cy="557.8" r="3.9"/>
<circle cx="372.3" cy="534.3" r="3.9"/>
<circle cx="379.8" cy="549.7" r="3.9"/>
<circle cx="370.7" cy="560.7" r="3.9"/>
<circle cx="359.2" cy="528.2" r="3.9"/>
<circle cx="354.6" cy="488.6" r="3.9"/>
<circle cx="369.5" cy="495.9" r="3.9"/>
<circle cx="363.0" cy="489.7" r="3.9"/>
<circle cx="379.4" cy="562.4" r="3.9"/>
<circle cx="374.4" cy="503.9" r="3.9"/>
<circle cx="345.9" cy="553.8" r="3.9"/>
<circle cx="375.9" cy="538.3" r="3.9"/>
<circle cx="346.3" cy="565.4" r="3.9"/>
<circle cx="361.6" cy="548.3" r="3.9"/>
<circle cx="368.3" cy="521.8" r="3.9"/>
<circle cx="330.9" cy="519.4" r="3.9"/>
<circle cx="376.4" cy="526.3" r="3.9"/>
<circle cx="377.7" cy="528.5" r="3.9"/>
<circle cx="371.2" cy="511.5" r="3.9"/>
<circle cx="365.6" cy="523.5" r="3.9"/>
<circle cx="366.7" cy="562.9" r="3.9"/>
<circle cx="354.0" cy="483.4" r="3.9"/>
<circle cx="368.8" cy="530.5" r="3.9"/>
<circle cx="362.9" cy="502.5" r="3.9"/>
<circle cx="376.4" cy="528.7" r="3.9"/>
<circle cx="349.2" cy="544.4" r="3.9"/>
<circle cx="379.4" cy="522.9" r="3.9"/>
<circle cx="377.5" cy="542.8" r="3.9"/>
<circle cx="371.5" cy="486.1" r="3.9"/>
<circle cx="365.3" cy="550.8" r="3.9"/>
<circle cx="386.1" cy="509.8" r="3.9"/>
<circle cx="339.5" cy="539.2" r="3.9"/>
<circle cx="384.2" cy="528.6" r="3.9"/>
<circle cx="379.6" cy="462.2" r="3.9"/>
<circle cx="380.5" cy="506.1" r="3.9"/>
<circle cx="382.5" cy="529.5" r="3.9"/>
<circle cx="360.8" cy="561.5" r="3.9"/>
<circle cx="369.1" cy="531.1" r="3.9"/>
<circle cx="387.9" cy="530.4" r="3.9"/>
<circle cx="383.5" cy="490.3" r="3.9"/>
<circle cx="378.8" cy="558.6" r="3.9"/>
<circle cx="342.7" cy="567.6" r="3.9"/>
<circle cx="385.8" cy="524.9" r="3.9"/>
<circle cx="399.1" cy="519.0" r="3.9"/>
<circle cx="395.7" cy="485.4" r="3.9"/>
<circle cx="379.4" cy="545.4" r="3.9"/>
<circle cx="341.8" cy="589.1" r="3.9"/>
<circle cx="394.3" cy="541.5" r="3.9"/>
<circle cx="371.4" cy="554.6" r="3.9"/>
<circle cx="321.3" cy="537.3" r="3.9"/>
<circle cx="382.4" cy="500.6" r="3.9"/>
<circle cx="343.2" cy="556.3" r="3.9"/>
<circle cx="347.3" cy="494.6" r="3.9"/>
<circle cx="361.2" cy="519.2" r="3.9"/>
<circle cx="401.2" cy="530.9" r="3.9"/>
<circle cx="366.7" cy="545.4" r="3.9"/>
<circle cx="380.2" cy="534.2" r="3.9"/>
<circle cx="411.2" cy="533.5" r="3.9"/>
<circle cx="408.0" cy="506.0" r="3.9"/>
<circle cx="372.3" cy="493.3" r="3.9"/>
<circle cx="369.4" cy="525.7" r="3.9"/>
<circle cx="348.0" cy="507.2" r="3.9"/>
<circle cx="359.9" cy="492.9" r="3.9"/>
<circle cx="383.4" cy="493.9" r="3.9"/>
<circle cx="382.8" cy="512.5" r="3.9"/>
<circle cx="376.8" cy="479.8" r="3.9"/>
<circle cx="395.4" cy="491.9" r="3.9"/>
<circle cx="358.3" cy="485.0" r="3.9"/>
<circle cx="373.3" cy="528.6" r="3.9"/>
<circle cx="389.9" cy="534.0" r="3.9"/>
<circle cx="386.8" cy="572.4" r="3.9"/>
<circle cx="397.0" cy="488.3" r="3.9"/>
<circle cx="382.8" cy="507.9" r="3.9"/>
<circle cx="368.0" cy="546.2" r="3.9"/>
<circle cx="382.1" cy="519.0" r="3.9"/>
<circle cx="353.4" cy="516.4" r="3.9"/>
<circle cx="340.1" cy="565.3" r="3.9"/>
<circle cx="386.7" cy="516.1" r="3.9"/>
<circle cx="373.3" cy="496.5" r="3.9"/>
<circle cx="381.0" cy="492.6" r="3.9"/>
<circle cx="338.8" cy="532.3" r="3.9"/>
<circle cx="366.8" cy="531.6" r="3.9"/>
<circle cx="361.9" cy="491.3" r="3.9"/>
<circle cx="356.4" cy="500.6" r="3.9"/>
<circle cx="327.1" cy="537.1" r="3.9"/>
<circle cx="367.5" cy="538.1" r="3.9"/>
<circle cx="393.3" cy="508.8" r="3.9"/>
<circle cx="382.5" cy="539.2" r="3.9"/>
<circle cx="361.9" cy="538.0" r="3.9"/>
<circle cx="374.2" cy="481.5" r="3.9"/>
<circle cx="390.4" cy="516.8" r="3.9"/>
<circle cx="316.5" cy="534.2" r="3.9"/>
<circle cx="371.9" cy="510.5" r="3.9"/>
<circle cx="385.9" cy="472.9" r="3.9"/>
<circle cx="388.8" cy="517.5" r="3.9"/>
<circle cx="410.2" cy="542.3" r="3.9"/>
<circle cx="398.3" cy="562.2" r="3.9"/>
<circle cx="381.1" cy="471.7" r="3.9"/>
<circle cx="380.8" cy="587.0" r="3.9"/>
<circle cx="391.0" cy="497.2" r="3.9"/>
<circle cx="363.2" cy="547.2" r="3.9"/>
<circle cx="373.7" cy="553.9" r="3.9"/>
<circle cx="393.5" cy="547.8" r="3.9"/>
<circle cx="415.6" cy="527.8" r="3.9"/>
<circle cx="371.2" cy="496.4" r="3.9"/>
<circle cx="373.5" cy="539.3" r="3.9"/>
<circle cx="378.7" cy="507.1" r="3.9"/>
<circle cx="402.7" cy="463.7" r="3.9"/>
<circle cx="373.9" cy="592.1" r="3.9"/>
<circle cx="405.4" cy="541.2" r="3.9"/>
<circle cx="354.2" cy="567.9" r="3.9"/>
<circle cx="370.6" cy="502.4" r="3.9"/>
<circle cx="370.3" cy="559.5" r="3.9"/>
<circle cx="391.0" cy="562.4" r="3.9"/>
<circle cx="396.5" cy="561.6" r="3.9"/>
<circle cx="342.8" cy="523.7" r="3.9"/>
<circle cx="355.3" cy="495.4" r="3.9"/>
<circle cx="381.6" cy="520.0" r="3.9"/>
<circle cx="360.7" cy="471.4" r="3.9"/>
<circle cx="342.5" cy="483.4" r="3.9"/>
<circle cx="396.3" cy="526.5" r="3.9"/>
<circle cx="384.9" cy="500.5" r="3.9"/>
<circle cx="384.9" cy="520.3" r="3.9"/>
<circle cx="364.5" cy="521.6" r="3.9"/>
<circle cx="396.1" cy="570.6" r="3.9"/>
<circle cx="369.5" cy="555.4" r="3.9"/>
<circle cx="397.5" cy="523.2" r="3.9"/>
<circle cx="355.4" cy="553.3" r="3.9"/>
<circle cx="356.6" cy="505.5" r="3.9"/>
<circle cx="378.8" cy="516.2" r="3.9"/>
<circle cx="359.8" cy="546.1" r="3.9"/>
<circle cx="388.7" cy="494.5" r="3.9"/>
<circle cx="380.0" cy="517.6" r="3.9"/>
<circle cx="355.1" cy="492.5" r="3.9"/>
<circle cx="376.0" cy="527.1" r="3.9"/>
<circle cx="367.1" cy="563.4" r="3.9"/>
<circle cx="393.7" cy="506.2" r="3.9"/>
<circle cx="361.2" cy="529.7" r="3.9"/>
<circle cx="365.3" cy="502.7" r="3.9"/>
<circle cx="399.9" cy="496.7" r="3.9"/>
<circle cx="421.5" cy="494.6" r="3.9"/>
<circle cx="416.5" cy="559.2" r="3.9"/>
<circle cx="375.8" cy="580.9" r="3.9"/>
<circle cx="379.1" cy="535.8" r="3.9"/>
<circle cx="406.7" cy="507.1" r="3.9"/>
<circle cx="371.9" cy="541.2" r="3.9"/>
<circle cx="354.0" cy="516.2" r="3.9"/>
<circle cx="377.0" cy="543.5" r="3.9"/>
<circle cx="384.0" cy="531.2" r="3.9"/>
<circle cx="357.1" cy="531.0" r="3.9"/>
<circle cx="339.9" cy="538.8" r="3.9"/>
<circle cx="344.3" cy="510.3" r="3.9"/>
<circle cx="388.5" cy="514.5" r="3.9"/>
<circle cx="358.6" cy="482.9" r="3.9"/>
<circle cx="371.5" cy="513.6" r="3.9"/>
<circle cx="379.0" cy="490.1" r="3.9"/>
<circle cx="387.5" cy="520.8" r="3.9"/>
<circle cx="367.5" cy="501.3" r="3.9"/>
<circle cx="385.0" cy="526.7" r="3.9"/>
<circle cx="355.8" cy="535.1" r="3.9"/>
<circle cx="366.9" cy="490.2" r="3.9"/>
<circle cx="353.0" cy="504.7" r="3.9"/>
<circle cx="398.3" cy="501.6" r="3.9"/>
<circle cx="373.9" cy="542.2" r="3.9"/>
<circle cx="359.0" cy="565.2" r="3.9"/>
<circle cx="367.1" cy="544.7" r="3.9"/>
<circle cx="369.8" cy="515.9" r="3.9"/>
<circle cx="389.2" cy="559.4" r="3.9"/>
<circle cx="341.0" cy="487.9" r="3.9"/>
<circle cx="352.7" cy="560.2" r="3.9"/>
<circle cx="366.6" cy="508.5" r="3.9"/>
<circle cx="427.7" cy="457.5" r="3.9"/>
<circle cx="394.6" cy="587.9" r="3.9"/>
<circle cx="372.2" cy="562.1" r="3.9"/>
<circle cx="389.5" cy="499.5" r="3.9"/>
<circle cx="417.7" cy="528.3" r="3.9"/>
<circle cx="369.6" cy="519.1" r="3.9"/>
<circle cx="366.8" cy="526.7" r="3.9"/>
<circle cx="400.0" cy="488.7" r="3.9"/>
<circle cx="384.9" cy="507.9" r="3.9"/>
<circle cx="388.6" cy="535.5" r="3.9"/>
<circle cx="363.8" cy="529.6" r="3.9"/>
<circle cx="414.9" cy="553.0" r="3.9"/>
<circle cx="410.4" cy="526.2" r="3.9"/>
<circle cx="386.4" cy="580.6" r="3.9"/>
<circle cx="388.9" cy="507.1" r="3.9"/>
<circle cx="331.9" cy="530.5" r="3.9"/>
<circle cx="387.9" cy="478.3" r="3.9"/>
<circle cx="370.4" cy="494.2" r="3.9"/>
<circle cx="383.6" cy="556.1" r="3.9"/>
<circle cx="388.8" cy="501.6" r="3.9"/>
<circle cx="367.3" cy="537.0" r="3.9"/>
<circle cx="339.0" cy="522.8" r="3.9"/>
<circle cx="382.2" cy="499.2" r="3.9"/>
<circle cx="358.9" cy="515.9" r="3.9"/>
<circle cx="367.6" cy="511.9" r="3.9"/>
<circle cx="361.8" cy="512.6" r="3.9"/>
<circle cx="367.3" cy="542.3" r="3.9"/>
<circle cx="326.0" cy="539.9" r="3.9"/>
<circle cx="400.1" cy="510.4" r="3.9"/>
<circle cx="379.8" cy="502.5" r="3.9"/>
<circle cx="397.8" cy="531.0" r="3.9"/>
<circle cx="416.1" cy="521.8" r="3.9"/>
<circle cx="375.0" cy="548.9" r="3.9"/>
<circle cx="336.6" cy="588.0" r="3.9"/>
<circle cx="355.7" cy="544.5" r="3.9"/>
<circle cx="349.2" cy="523.4" r="3.9"/>
<circle cx="364.0" cy="520.1" r="3.9"/>
<circle cx="376.2" cy="503.7" r="3.9"/>
<circle cx="332.5" cy="502.5" r="3.9"/>
<circle cx="381.7" cy="500.2" r="3.9"/>
<circle cx="342.8" cy="514.8" r="3.9"/>
<circle cx="380.7" cy="514.0" r="3.9"/>
<circle cx="372.2" cy="542.1" r="3.9"/>
<circle cx="367.9" cy="514.7" r="3.9"/>
<circle cx="373.0" cy="519.5" r="3.9"/>
<circle cx="363.2" cy="495.0" r="3.9"/>
<circle cx="361.6" cy="563.7" r="3.9"/>
<circle cx="339.2" cy="536.4" r="3.9"/>
<circle cx="373.9" cy="567.2" r="3.9"/>
<circle cx="413.3" cy="543.4" r="3.9"/>
<circle cx="416.1" cy="560.0" r="3.9"/>
<circle cx="402.3" cy="518.3" r="3.9"/>
<circle cx="389.3" cy="541.5" r="3.9"/>
<circle cx="360.3" cy="589.2" r="3.9"/>
<circle cx="404.8" cy="494.9" r="3.9"/>
<circle cx="373.3" cy="552.5" r="3.9"/>
<circle cx="373.1" cy="565.0" r="3.9"/>
<circle cx="368.4" cy="534.4" r="3.9"/>
<circle cx="376.4" cy="542.6" r="3.9"/>
<circle cx="365.4" cy="555.0" r="3.9"/>
<circle cx="372.7" cy="508.2" r="3.9"/>
<circle cx="351.7" cy="534.3" r="3.9"/>
<circle cx="366.7" cy="502.9" r="3.9"/>
<circle cx="422.4" cy="507.7" r="3.9"/>
<circle cx="373.0" cy="509.1" r="3.9"/>
<circle cx="368.4" cy="469.9" r="3.9"/>
<circle cx="380.8" cy="573.2" r="3.9"/>
<circle cx="393.9" cy="605.5" r="3.9"/>
<circle cx="313.6" cy="480.4" r="3.9"/>
<circle cx="459.6" cy="510.2" r="3.9"/>
<circle cx="424.2" cy="573.7" r="3.9"/>
<circle cx="405.7" cy="540.0" r="3.9"/>
<circle cx="359.1" cy="618.2" r="3.9"/>
<circle cx="370.7" cy="497.5" r="3.9"/>
<circle cx="398.1" cy="549.7" r="3.9"/>
<circle cx="392.2" cy="465.5" r="3.9"/>
<circle cx="302.2" cy="622.8" r="3.9"/>
<circle cx="406.4" cy="489.9" r="3.9"/>
<circle cx="500.0" cy="420.5" r="3.9"/>
<circle cx="295.0" cy="518.3" r="3.9"/>
<circle cx="417.3" cy="517.7" r="3.9"/>
<circle cx="390.4" cy="614.3" r="3.9"/>
<circle cx="369.7" cy="508.3" r="3.9"/>
<circle cx="433.6" cy="523.7" r="3.9"/>
<circle cx="323.5" cy="552.1" r="3.9"/>
<circle cx="381.5" cy="598.8" r="3.9"/>
<circle cx="437.6" cy="521.3" r="3.9"/>
<circle cx="366.0" cy="573.1" r="3.9"/>
<circle cx="356.5" cy="548.6" r="3.9"/>
<circle cx="379.5" cy="510.3" r="3.9"/>
<circle cx="355.3" cy="527.9" r="3.9"/>
<circle cx="441.2" cy="525.6" r="3.9"/>
<circle cx="335.4" cy="481.2" r="3.9"/>
<circle cx="412.2" cy="581.3" r="3.9"/>
<circle cx="320.5" cy="459.1" r="3.9"/>
<circle cx="403.4" cy="579.3" r="3.9"/>
<circle cx="370.0" cy="569.1" r="3.9"/>
<circle cx="263.0" cy="519.9" r="3.9"/>
<circle cx="374.2" cy="488.3" r="3.9"/>
<circle cx="328.4" cy="513.6" r="3.9"/>
<circle cx="355.3" cy="546.5" r="3.9"/>
<circle cx="440.9" cy="559.2" r="3.9"/>
<circle cx="326.3" cy="537.7" r="3.9"/>
<circle cx="328.7" cy="570.9" r="3.9"/>
<circle cx="436.7" cy="498.1" r="3.9"/>
<circle cx="379.5" cy="535.3" r="3.9"/>
<circle cx="441.1" cy="450.5" r="3.9"/>
<circle cx="388.5" cy="560.1" r="3.9"/>
<circle cx="336.4" cy="531.4" r="3.9"/>
<circle cx="371.6" cy="504.7" r="3.9"/>
<circle cx="427.6" cy="578.8" r="3.9"/>
<circle cx="415.1" cy="556.8" r="3.9"/>
<circle cx="374.5" cy="391.9" r="3.9"/>
<circle cx="376.6" cy="526.1" r="3.9"/>
<circle cx="369.6" cy="455.9" r="3.9"/>
<circle cx="349.5" cy="574.4" r="3.9"/>
<circle cx="457.9" cy="641.2" r="3.9"/>
<circle cx="374.8" cy="499.9" r="3.9"/>
<circle cx="325.7" cy="527.8" r="3.9"/>
<circle cx="353.9" cy="512.5" r="3.9"/>
<circle cx="405.9" cy="540.7" r="3.9"/>
<circle cx="402.2" cy="554.5" r="3.9"/>
<circle cx="368.6" cy="584.7" r="3.9"/>
<circle cx="345.6" cy="477.8" r="3.9"/>
<circle cx="375.5" cy="598.1" r="3.9"/>
<circle cx="302.2" cy="480.5" r="3.9"/>
<circle cx="318.3" cy="537.3" r="3.9"/>
<circle cx="409.0" cy="578.7" r="3.9"/>
<circle cx="353.8" cy="557.8" r="3.9"/>
<circle cx="390.7" cy="480.1" r="3.9"/>
<circle cx="427.1" cy="491.3" r="3.9"/>
<circle cx="402.6" cy="502.5" r="3.9"/>
<circle cx="375.4" cy="521.8" r="3.9"/>
<circle cx="466.4" cy="578.2" r="3.9"/>
<circle cx="403.3" cy="463.5" r="3.9"/>
<circle cx="359.2" cy="546.2" r="3.9"/>
<circle cx="406.1" cy="552.9" r="3.9"/>
<circle cx="392.1" cy="550.5" r="3.9"/>
<circle cx="337.5" cy="546.2" r="3.9"/>
<circle cx="377.7" cy="595.6" r="3.9"/>
<circle cx="367.4" cy="547.2" r="3.9"/>
<circle cx="289.6" cy="564.5" r="3.9"/>
<circle cx="367.1" cy="550.7" r="3.9"/>
<circle cx="362.3" cy="608.5" r="3.9"/>
<circle cx="355.6" cy="435.0" r="3.9"/>
<circle cx="303.5" cy="584.5" r="3.9"/>
<circle cx="359.2" cy="512.0" r="3.9"/>
<circle cx="372.8" cy="511.1" r="3.9"/>
<circle cx="378.9" cy="478.7" r="3.9"/>
<circle cx="325.5" cy="436.4" r="3.9"/>
<circle cx="401.8" cy="506.3" r="3.9"/>
<circle cx="322.0" cy="491.9" r="3.9"/>
<circle cx="364.8" cy="547.5" r="3.9"/>
<circle cx="430.8" cy="455.1" r="3.9"/>
<circle cx="344.6" cy="591.5" r="3.9"/>
<circle cx="352.4" cy="537.0" r="3.9"/>
<circle cx="420.8" cy="512.6" r="3.9"/>
<circle cx="357.9" cy="490.9" r="3.9"/>
<circle cx="361.7" cy="487.3" r="3.9"/>
<circle cx="384.0" cy="471.1" r="3.9"/>
<circle cx="419.8" cy="498.7" r="3.9"/>
<circle cx="279.4" cy="524.5" r="3.9"/>
<circle cx="338.8" cy="515.9" r="3.9"/>
<circle cx="331.0" cy="457.8" r="3.9"/>
<circle cx="327.7" cy="511.8" r="3.9"/>
<circle cx="337.6" cy="482.3" r="3.9"/>
<circle cx="338.3" cy="531.8" r="3.9"/>
<circle cx="387.5" cy="611.9" r="3.9"/>
<circle cx="336.2" cy="553.6" r="3.9"/>
<circle cx="379.8" cy="509.5" r="3.9"/>
<circle cx="391.8" cy="447.9" r="3.9"/>
<circle cx="343.1" cy="457.8" r="3.9"/>
<circle cx="380.1" cy="445.0" r="3.9"/>
<circle cx="445.0" cy="558.4" r="3.9"/>
<circle cx="388.4" cy="488.3" r="3.9"/>
<circle cx="347.1" cy="527.2" r="3.9"/>
<circle cx="371.7" cy="495.0" r="3.9"/>
<circle cx="335.1" cy="528.5" r="3.9"/>
<circle cx="386.1" cy="590.1" r="3.9"/>
<circle cx="411.6" cy="492.1" r="3.9"/>
<circle cx="339.3" cy="508.2" r="3.9"/>
<circle cx="365.5" cy="486.4" r="3.9"/>
<circle cx="422.3" cy="565.4" r="3.9"/>
<circle cx="353.1" cy="476.0" r="3.9"/>
<circle cx="382.6" cy="471.0" r="3.9"/>
<circle cx="330.6" cy="459.0" r="3.9"/>
<circle cx="339.4" cy="458.1" r="3.9"/>
<circle cx="352.5" cy="546.4" r="3.9"/>
<circle cx="465.9" cy="645.0" r="3.9"/>
<circle cx="357.3" cy="477.5" r="3.9"/>
<circle cx="352.2" cy="569.0" r="3.9"/>
<circle cx="350.8" cy="536.1" r="3.9"/>
<circle cx="367.5" cy="472.5" r="3.9"/>
<circle cx="402.0" cy="511.2" r="3.9"/>
<circle cx="382.5" cy="513.3" r="3.9"/>
<circle cx="460.9" cy="491.8" r="3.9"/>
<circle cx="383.5" cy="615.0" r="3.9"/>
<circle cx="435.3" cy="434.7" r="3.9"/>
<circle cx="386.1" cy="542.2" r="3.9"/>
<circle cx="399.9" cy="539.8" r="3.9"/>
<circle cx="313.9" cy="497.0" r="3.9"/>
<circle cx="369.2" cy="531.3" r="3.9"/>
<circle cx="371.6" cy="565.5" r="3.9"/>
<circle cx="364.3" cy="531.4" r="3.9"/>
<circle cx="284.1" cy="543.9" r="3.9"/>
<circle cx="411.5" cy="556.8" r="3.9"/>
<circle cx="358.2" cy="428.7" r="3.9"/>
<circle cx="356.1" cy="593.7" r="3.9"/>
<circle cx="363.8" cy="631.3" r="3.9"/>
<circle cx="364.9" cy="570.3" r="3.9"/>
<circle cx="391.6" cy="571.9" r="3.9"/>
<circle cx="321.1" cy="458.1" r="3.9"/>
<circle cx="335.4" cy="518.7" r="3.9"/>
<circle cx="386.7" cy="486.1" r="3.9"/>
<circle cx="380.6" cy="496.7" r="3.9"/>
<circle cx="358.7" cy="569.7" r="3.9"/>
<circle cx="350.4" cy="486.5" r="3.9"/>
<circle cx="339.5" cy="518.1" r="3.9"/>
<circle cx="372.0" cy="434.5" r="3.9"/>
<circle cx="424.1" cy="516.8" r="3.9"/>
<circle cx="330.1" cy="528.5" r="3.9"/>
<circle cx="438.5" cy="491.1" r="3.9"/>
<circle cx="409.9" cy="490.4" r="3.9"/>
<circle cx="355.5" cy="612.9" r="3.9"/>
<circle cx="407.4" cy="467.4" r="3.9"/>
<circle cx="312.9" cy="474.9" r="3.9"/>
<circle cx="301.8" cy="486.2" r="3.9"/>
<circle cx="320.3" cy="580.6" r="3.9"/>
<circle cx="357.3" cy="623.0" r="3.9"/>
<circle cx="360.8" cy="539.9" r="3.9"/>
<circle cx="352.9" cy="490.5" r="3.9"/>
<circle cx="378.7" cy="504.1" r="3.9"/>
<circle cx="284.8" cy="574.3" r="3.9"/>
<circle cx="395.3" cy="481.4" r="3.9"/>
<circle cx="314.9" cy="592.5" r="3.9"/>
<circle cx="346.7" cy="590.8" r="3.9"/>
<circle cx="357.2" cy="527.5" r="3.9"/>
<circle cx="325.9" cy="554.6" r="3.9"/>
<circle cx="316.9" cy="559.5" r="3.9"/>
<circle cx="332.2" cy="597.3" r="3.9"/>
<circle cx="374.0" cy="474.8" r="3.9"/>
<circle cx="399.3" cy="579.8" r="3.9"/>
<circle cx="398.2" cy="506.6" r="3.9"/>
<circle cx="332.7" cy="488.2" r="3.9"/>
<circle cx="341.3" cy="529.1" r="3.9"/>
<circle cx="335.8" cy="514.2" r="3.9"/>
<circle cx="393.4" cy="477.8" r="3.9"/>
<circle cx="288.9" cy="449.2" r="3.9"/>
<circle cx="426.5" cy="480.0" r="3.9"/>
<circle cx="354.1" cy="592.5" r="3.9"/>
<circle cx="341.6" cy="616.5" r="3.9"/>
<circle cx="388.8" cy="554.8" r="3.9"/>
<circle cx="417.9" cy="580.0" r="3.9"/>
<circle cx="388.9" cy="500.0" r="3.9"/>
<circle cx="418.7" cy="520.6" r="3.9"/>
<circle cx="380.1" cy="537.5" r="3.9"/>
<circle cx="426.1" cy="473.4" r="3.9"/>
<circle cx="426.8" cy="477.7" r="3.9"/>
<circle cx="370.3" cy="528.8" r="3.9"/>
<circle cx="434.9" cy="509.2" r="3.9"/>
<circle cx="381.4" cy="474.3" r="3.9"/>
<circle cx="378.1" cy="542.4" r="3.9"/>
<circle cx="335.8" cy="511.9" r="3.9"/>
<circle cx="362.4" cy="572.3" r="3.9"/>
<circle cx="407.2" cy="524.0" r="3.9"/>
<circle cx="319.4" cy="510.1" r="3.9"/>
<circle cx="401.8" cy="530.3" r="3.9"/>
<circle cx="389.1" cy="516.2" r="3.9"/>
<circle cx="386.2" cy="492.9" r="3.9"/>
<circle cx="281.8" cy="505.4" r="3.9"/>
<circle cx="370.2" cy="559.5" r="3.9"/>
<circle cx="401.7" cy="554.6" r="3.9"/>
<circle cx="342.5" cy="584.7" r="3.9"/>
<circle cx="378.3" cy="444.7" r="3.9"/>
<circle cx="274.6" cy="505.8" r="3.9"/>
<circle cx="402.7" cy="504.8" r="3.9"/>
<circle cx="346.7" cy="532.3" r="3.9"/>
<circle cx="411.1" cy="503.0" r="3.9"/>
<circle cx="297.1" cy="500.1" r="3.9"/>
<circle cx="403.6" cy="561.0" r="3.9"/>
<circle cx="364.5" cy="532.6" r="3.9"/>
<circle cx="408.4" cy="469.4" r="3.9"/>
<circle cx="335.6" cy="587.0" r="3.9"/>
<circle cx="348.5" cy="571.1" r="3.9"/>
<circle cx="468.7" cy="497.3" r="3.9"/>
<circle cx="339.6" cy="563.3" r="3.9"/>
<circle cx="344.8" cy="489.7" r="3.9"/>
<circle cx="362.9" cy="577.2" r="3.9"/>
<circle cx="331.6" cy="514.0" r="3.9"/>
<circle cx="424.5" cy="486.5" r="3.9"/>
<circle cx="447.0" cy="506.7" r="3.9"/>
<circle cx="344.9" cy="488.3" r="3.9"/>
<circle cx="302.0" cy="533.3" r="3.9"/>
<circle cx="423.7" cy="532.5" r="3.9"/>
<circle cx="421.1" cy="525.9" r="3.9"/>
<circle cx="409.0" cy="498.1" r="3.9"/>
<circle cx="423.1" cy="352.2" r="3.9"/>
<circle cx="338.1" cy="528.6" r="3.9"/>
<circle cx="367.4" cy="435.1" r="3.9"/>
<circle cx="316.4" cy="535.7" r="3.9"/>
<circle cx="314.9" cy="577.4" r="3.9"/>
<circle cx="415.7" cy="537.1" r="3.9"/>
<circle cx="346.3" cy="505.9" r="3.9"/>
<circle cx="470.2" cy="515.8" r="3.9"/>
<circle cx="377.6" cy="518.0" r="3.9"/>
<circle cx="347.6" cy="498.4" r="3.9"/>
<circle cx="408.0" cy="496.8" r="3.9"/>
<circle cx="450.2" cy="480.8" r="3.9"/>
<circle cx="394.9" cy="580.1" r="3.9"/>
<circle cx="323.4" cy="523.5" r="3.9"/>
<circle cx="390.1" cy="569.2" r="3.9"/>
<circle cx="432.3" cy="512.5" r="3.9"/>
<circle cx="353.8" cy="527.6" r="3.9"/>
<circle cx="342.0" cy="516.2" r="3.9"/>
<circle cx="417.2" cy="546.0" r="3.9"/>
<circle cx="380.4" cy="563.1" r="3.9"/>
<circle cx="328.2" cy="535.5" r="3.9"/>
<circle cx="358.6" cy="492.6" r="3.9"/>
<circle cx="342.8" cy="487.6" r="3.9"/>
<circle cx="386.9" cy="602.2" r="3.9"/>
<circle cx="379.1" cy="511.1" r="3.9"/>
<circle cx="422.8" cy="510.6" r="3.9"/>
<circle cx="404.3" cy="593.1" r="3.9"/>
<circle cx="308.8" cy="575.4" r="3.9"/>
<circle cx="391.6" cy="549.3" r="3.9"/>
<circle cx="412.2" cy="505.5" r="3.9"/>
<circle cx="393.6" cy="634.9" r="3.9"/>
<circle cx="417.8" cy="542.7" r="3.9"/>
<circle cx="351.4" cy="550.0" r="3.9"/>
<circle cx="334.6" cy="516.2" r="3.9"/>
<circle cx="413.6" cy="457.8" r="3.9"/>
<circle cx="329.8" cy="461.5" r="3.9"/>
<circle cx="283.8" cy="543.4" r="3.9"/>
<circle cx="417.6" cy="542.7" r="3.9"/>
<circle cx="344.1" cy="513.0" r="3.9"/>
<circle cx="361.6" cy="469.2" r="3.9"/>
<circle cx="315.8" cy="456.5" r="3.9"/>
<circle cx="318.8" cy="508.8" r="3.9"/>
<circle cx="325.9" cy="455.8" r="3.9"/>
<circle cx="359.4" cy="566.5" r="3.9"/>
<circle cx="390.0" cy="578.4" r="3.9"/>
<circle cx="278.0" cy="657.2" r="3.9"/>
<circle cx="406.1" cy="565.5" r="3.9"/>
<circle cx="324.9" cy="496.4" r="3.9"/>
<circle cx="329.7" cy="483.3" r="3.9"/>
<circle cx="403.0" cy="362.0" r="3.9"/>
<circle cx="371.4" cy="496.3" r="3.9"/>
<circle cx="310.0" cy="515.9" r="3.9"/>
<circle cx="452.0" cy="569.7" r="3.9"/>
<circle cx="338.4" cy="553.0" r="3.9"/>
<circle cx="384.9" cy="551.9" r="3.9"/>
<circle cx="382.9" cy="534.3" r="3.9"/>
<circle cx="433.8" cy="555.3" r="3.9"/>
<circle cx="355.4" cy="592.3" r="3.9"/>
<circle cx="416.8" cy="474.2" r="3.9"/>
<circle cx="343.3" cy="502.8" r="3.9"/>
<circle cx="421.6" cy="459.0" r="3.9"/>
<circle cx="342.5" cy="600.3" r="3.9"/>
<circle cx="359.3" cy="585.2" r="3.9"/>
<circle cx="454.1" cy="559.6" r="3.9"/>
<circle cx="387.8" cy="467.9" r="3.9"/>
<circle cx="379.1" cy="532.4" r="3.9"/>
<circle cx="468.7" cy="513.2" r="3.9"/>
<circle cx="389.7" cy="528.0" r="3.9"/>
<circle cx="340.2" cy="515.4" r="3.9"/>
<circle cx="405.4" cy="548.7" r="3.9"/>
<circle cx="324.9" cy="505.7" r="3.9"/>
<circle cx="421.9" cy="564.4" r="3.9"/>
<circle cx="425.2" cy="535.6" r="3.9"/>
<circle cx="350.4" cy="510.5" r="3.9"/>
<circle cx="348.1" cy="519.0" r="3.9"/>
<circle cx="381.9" cy="503.5" r="3.9"/>
<circle cx="375.1" cy="562.5" r="3.9"/>
<circle cx="333.4" cy="511.5" r="3.9"/>
<circle cx="398.4" cy="538.1" r="3.9"/>
<circle cx="288.7" cy="505.8" r="3.9"/>
<circle cx="356.3" cy="454.5" r="3.9"/>
<circle cx="357.5" cy="566.8" r="3.9"/>
<circle cx="363.0" cy="474.5" r="3.9"/>
<circle cx="387.4" cy="556.2" r="3.9"/>
<circle cx="322.9" cy="544.0" r="3.9"/>
<circle cx="399.2" cy="446.4" r="3.9"/>
<circle cx="366.9" cy="479.8" r="3.9"/>
<circle cx="347.2" cy="500.1" r="3.9"/>
<circle cx="317.1" cy="485.7" r="3.9"/>
<circle cx="324.8" cy="468.7" r="3.9"/>
<circle cx="389.6" cy="559.0" r="3.9"/>
<circle cx="334.0" cy="513.0" r="3.9"/>
<circle cx="377.2" cy="542.4" r="3.9"/>
<circle cx="419.1" cy="504.0" r="3.9"/>
<circle cx="417.9" cy="538.6" r="3.9"/>
<circle cx="440.0" cy="488.9" r="3.9"/>
<circle cx="362.1" cy="523.0" r="3.9"/>
<circle cx="328.9" cy="551.6" r="3.9"/>
<circle cx="417.4" cy="526.4" r="3.9"/>
<circle cx="387.5" cy="502.8" r="3.9"/>
<circle cx="421.7" cy="473.2" r="3.9"/>
<circle cx="375.0" cy="532.1" r="3.9"/>
<circle cx="424.7" cy="540.5" r="3.9"/>
<circle cx="410.0" cy="512.1" r="3.9"/>
<circle cx="404.6" cy="488.1" r="3.9"/>
<circle cx="395.6" cy="549.8" r="3.9"/>
<circle cx="391.2" cy="640.9" r="3.9"/>
<circle cx="384.3" cy="510.0" r="3.9"/>
<circle cx="384.0" cy="540.1" r="3.9"/>
<circle cx="416.1" cy="542.0" r="3.9"/>
<circle cx="353.0" cy="403.6" r="3.9"/>
<circle cx="447.4" cy="530.1" r="3.9"/>
<circle cx="370.0" cy="491.0" r="3.9"/>
<circle cx="415.9" cy="589.3" r="3.9"/>
<circle cx="370.7" cy="512.3" r="3.9"/>
<circle cx="364.1" cy="487.7" r="3.9"/>
<circle cx="459.9" cy="514.0" r="3.9"/>
<circle cx="361.5" cy="532.1" r="3.9"/>
<circle cx="320.9" cy="497.9" r="3.9"/>
<circle cx="344.5" cy="521.8" r="3.9"/>
<circle cx="361.2" cy="460.6" r="3.9"/>
<circle cx="465.0" cy="513.7" r="3.9"/>
<circle cx="383.2" cy="560.7" r="3.9"/>
<circle cx="413.8" cy="616.8" r="3.9"/>
<circle cx="332.4" cy="557.5" r="3.9"/>
<circle cx="389.3" cy="537.0" r="3.9"/>
<circle cx="402.7" cy="579.9" r="3.9"/>
<circle cx="450.2" cy="572.1" r="3.9"/>
<circle cx="345.3" cy="602.5" r="3.9"/>
<circle cx="399.8" cy="575.1" r="3.9"/>
<circle cx="387.2" cy="518.7" r="3.9"/>
<circle cx="331.6" cy="536.4" r="3.9"/>
<circle cx="373.7" cy="532.7" r="3.9"/>
<circle cx="363.4" cy="538.5" r="3.9"/>
<circle cx="276.8" cy="533.7" r="3.9"/>
<circle cx="399.6" cy="487.5" r="3.9"/>
<circle cx="397.2" cy="425.4" r="3.9"/>
<circle cx="356.1" cy="492.7" r="3.9"/>
<circle cx="318.3" cy="429.0" r="3.9"/>
<circle cx="436.7" cy="527.4" r="3.9"/>
<circle cx="385.7" cy="524.5" r="3.9"/>
<circle cx="417.2" cy="445.5" r="3.9"/>
<circle cx="433.7" cy="556.6" r="3.9"/>
<circle cx="352.6" cy="565.0" r="3.9"/>
<circle cx="408.6" cy="528.8" r="3.9"/>
<circle cx="364.4" cy="602.6" r="3.9"/>
<circle cx="371.9" cy="612.2" r="3.9"/>
<circle cx="370.9" cy="467.6" r="3.9"/>
<circle cx="374.4" cy="573.0" r="3.9"/>
<circle cx="421.3" cy="545.0" r="3.9"/>
<circle cx="379.7" cy="543.9" r="3.9"/>
<circle cx="368.0" cy="568.2" r="3.9"/>
<circle cx="362.9" cy="490.4" r="3.9"/>
<circle cx="388.8" cy="496.4" r="3.9"/>
<circle cx="336.9" cy="485.4" r="3.9"/>
<circle cx="353.4" cy="488.8" r="3.9"/>
<circle cx="372.3" cy="519.6" r="3.9"/>
<circle cx="350.7" cy="456.0" r="3.9"/>
<circle cx="369.5" cy="475.1" r="3.9"/>
<circle cx="348.8" cy="551.4" r="3.9"/>
<circle cx="458.7" cy="520.9" r="3.9"/>
<circle cx="430.3" cy="542.2" r="3.9"/>
<circle cx="393.4" cy="435.5" r="3.9"/>
<circle cx="372.2" cy="487.4" r="3.9"/>
<circle cx="466.5" cy="498.1" r="3.9"/>
<circle cx="388.1" cy="525.8" r="3.9"/>
<circle cx="370.9" cy="496.7" r="3.9"/>
<circle cx="387.2" cy="568.1" r="3.9"/>
<circle cx="387.3" cy="521.5" r="3.9"/>
<circle cx="433.7" cy="525.0" r="3.9"/>
<circle cx="373.7" cy="524.9" r="3.9"/>
<circle cx="462.7" cy="557.5" r="3.9"/>
<circle cx="337.5" cy="502.1" r="3.9"/>
<circle cx="403.7" cy="577.0" r="3.9"/>
<circle cx="332.4" cy="545.9" r="3.9"/>
<circle cx="450.8" cy="531.5" r="3.9"/>
<circle cx="360.6" cy="526.2" r="3.9"/>
<circle cx="372.1" cy="548.7" r="3.9"/>
<circle cx="413.3" cy="572.0" r="3.9"/>
<circle cx="427.2" cy="568.7" r="3.9"/>
<circle cx="327.8" cy="541.9" r="3.9"/>
<circle cx="360.0" cy="565.5" r="3.9"/>
<circle cx="315.9" cy="529.8" r="3.9"/>
<circle cx="380.3" cy="583.1" r="3.9"/>
<circle cx="370.2" cy="523.0" r="3.9"/>
<circle cx="359.8" cy="426.7" r="3.9"/>
<circle cx="345.8" cy="587.1" r="3.9"/>
<circle cx="358.3" cy="529.3" r="3.9"/>
<circle cx="343.2" cy="469.2" r="3.9"/>
<circle cx="396.7" cy="514.9" r="3.9"/>
<circle cx="438.2" cy="482.7" r="3.9"/>
<circle cx="293.4" cy="623.0" r="3.9"/>
<circle cx="369.6" cy="547.6" r="3.9"/>
<circle cx="356.9" cy="450.5" r="3.9"/>
<circle cx="395.2" cy="549.9" r="3.9"/>
<circle cx="334.5" cy="505.5" r="3.9"/>
<circle cx="368.3" cy="614.3" r="3.9"/>
<circle cx="330.8" cy="474.8" r="3.9"/>
<circle cx="403.8" cy="418.6" r="3.9"/>
<circle cx="378.7" cy="527.3" r="3.9"/>
<circle cx="367.7" cy="507.9" r="3.9"/>
<circle cx="390.0" cy="504.7" r="3.9"/>
<circle cx="364.1" cy="423.6" r="3.9"/>
<circle cx="309.2" cy="544.3" r="3.9"/>
<circle cx="399.5" cy="602.9" r="3.9"/>
<circle cx="386.6" cy="434.5" r="3.9"/>
<circle cx="368.0" cy="579.3" r="3.9"/>
<circle cx="415.9" cy="497.5" r="3.9"/>
<circle cx="425.7" cy="634.7" r="3.9"/>
<circle cx="328.6" cy="544.7" r="3.9"/>
<circle cx="341.7" cy="515.4" r="3.9"/>
<circle cx="439.5" cy="576.2" r="3.9"/>
<circle cx="434.1" cy="549.0" r="3.9"/>
<circle cx="343.5" cy="496.4" r="3.9"/>
<circle cx="324.9" cy="557.6" r="3.9"/>
<circle cx="347.7" cy="500.2" r="3.9"/>
<circle cx="353.6" cy="440.2" r="3.9"/>
<circle cx="308.0" cy="619.7" r="3.9"/>
<circle cx="375.8" cy="507.8" r="3.9"/>
<circle cx="320.7" cy="495.6" r="3.9"/>
<circle cx="323.7" cy="540.2" r="3.9"/>
<circle cx="413.0" cy="450.9" r="3.9"/>
<circle cx="345.8" cy="460.6" r="3.9"/>
<circle cx="371.5" cy="500.8" r="3.9"/>
<circle cx="400.9" cy="499.8" r="3.9"/>
<circle cx="408.7" cy="527.6" r="3.9"/>
<circle cx="360.3" cy="577.0" r="3.9"/>
<circle cx="376.4" cy="502.0" r="3.9"/>
<circle cx="339.8" cy="547.4" r="3.9"/>
<circle cx="447.9" cy="552.5" r="3.9"/>
<circle cx="401.8" cy="473.3" r="3.9"/>
<circle cx="328.2" cy="535.0" r="3.9"/>
<circle cx="374.7" cy="479.9" r="3.9"/>
<circle cx="404.5" cy="574.3" r="3.9"/>
<circle cx="394.6" cy="545.6" r="3.9"/>
<circle cx="451.3" cy="525.0" r="3.9"/>
<circle cx="432.1" cy="461.3" r="3.9"/>
<circle cx="351.8" cy="529.7" r="3.9"/>
<circle cx="370.8" cy="488.2" r="3.9"/>
<circle cx="320.7" cy="557.4" r="3.9"/>
<circle cx="385.0" cy="518.6" r="3.9"/>
<circle cx="380.8" cy="486.1" r="3.9"/>
<circle cx="488.0" cy="567.7" r="3.9"/>
<circle cx="378.6" cy="558.2" r="3.9"/>
<circle cx="286.6" cy="496.4" r="3.9"/>
<circle cx="346.3" cy="578.9" r="3.9"/>
<circle cx="379.2" cy="510.2" r="3.9"/>
<circle cx="321.7" cy="509.7" r="3.9"/>
<circle cx="338.1" cy="530.1" r="3.9"/>
<circle cx="359.1" cy="488.9" r="3.9"/>
<circle cx="388.9" cy="503.5" r="3.9"/>
<circle cx="367.6" cy="516.7" r="3.9"/>
<circle cx="337.2" cy="596.2" r="3.9"/>
<circle cx="407.6" cy="594.7" r="3.9"/>
<circle cx="351.8" cy="512.1" r="3.9"/>
<circle cx="353.5" cy="599.9" r="3.9"/>
<circle cx="316.6" cy="522.2" r="3.9"/>
<circle cx="341.5" cy="542.1" r="3.9"/>
<circle cx="401.9" cy="565.8" r="3.9"/>
<circle cx="306.6" cy="538.0" r="3.9"/>
<circle cx="371.5" cy="637.8" r="3.9"/>
<circle cx="404.6" cy="535.7" r="3.9"/>
<circle cx="358.7" cy="468.0" r="3.9"/>
<circle cx="384.6" cy="585.6" r="3.9"/>
<circle cx="327.6" cy="504.9" r="3.9"/>
<circle cx="429.5" cy="509.9" r="3.9"/>
<circle cx="420.7" cy="383.6" r="3.9"/>
<circle cx="384.4" cy="571.3" r="3.9"/>
<circle cx="300.8" cy="562.7" r="3.9"/>
<circle cx="330.6" cy="561.8" r="3.9"/>
<circle cx="415.5" cy="570.2" r="3.9"/>
<circle cx="446.5" cy="603.7" r="3.9"/>
<circle cx="387.0" cy="522.1" r="3.9"/>
<circle cx="426.9" cy="568.3" r="3.9"/>
<circle cx="349.0" cy="489.3" r="3.9"/>
<circle cx="366.5" cy="507.6" r="3.9"/>
<circle cx="374.5" cy="573.9" r="3.9"/>
<circle cx="392.3" cy="542.6" r="3.9"/>
<circle cx="310.3" cy="461.6" r="3.9"/>
<circle cx="414.0" cy="541.2" r="3.9"/>
<circle cx="430.0" cy="515.7" r="3.9"/>
<circle cx="326.3" cy="485.8" r="3.9"/>
<circle cx="317.6" cy="544.7" r="3.9"/>
<circle cx="389.2" cy="505.2" r="3.9"/>
<circle cx="347.0" cy="450.4" r="3.9"/>
<circle cx="274.9" cy="472.0" r="3.9"/>
<circle cx="408.5" cy="607.4" r="3.9"/>
<circle cx="381.0" cy="453.0" r="3.9"/>
<circle cx="354.5" cy="534.7" r="3.9"/>
<circle cx="463.3" cy="552.9" r="3.9"/>
<circle cx="380.3" cy="554.3" r="3.9"/>
<circle cx="342.9" cy="466.7" r="3.9"/>
<circle cx="378.7" cy="509.1" r="3.9"/>
<circle cx="330.8" cy="530.9" r="3.9"/>
<circle cx="342.5" cy="561.9" r="3.9"/>
<circle cx="390.7" cy="493.9" r="3.9"/>
<circle cx="351.2" cy="469.6" r="3.9"/>
<circle cx="355.6" cy="571.4" r="3.9"/>
<circle cx="444.6" cy="576.2" r="3.9"/>
<circle cx="410.6" cy="541.6" r="3.9"/>
<circle cx="408.2" cy="495.6" r="3.9"/>
<circle cx="396.7" cy="543.4" r="3.9"/>
<circle cx="394.8" cy="529.4" r="3.9"/>
<circle cx="435.7" cy="563.6" r="3.9"/>
<circle cx="373.7" cy="465.5" r="3.9"/>
<circle cx="452.4" cy="529.7" r="3.9"/>
<circle cx="334.5" cy="516.8" r="3.9"/>
<circle cx="363.8" cy="472.1" r="3.9"/>
<circle cx="316.6" cy="534.4" r="3.9"/>
<circle cx="360.1" cy="525.9" r="3.9"/>
<circle cx="396.3" cy="505.0" r="3.9"/>
<circle cx="435.5" cy="542.9" r="3.9"/>
<circle cx="346.6" cy="457.6" r="3.9"/>
<circle cx="374.7" cy="521.7" r="3.9"/>
<circle cx="359.4" cy="544.5" r="3.9"/>
<circle cx="343.5" cy="537.6" r="3.9"/>
<circle cx="324.5" cy="574.8" r="3.9"/>
<circle cx="377.0" cy="467.8" r="3.9"/>
<circle cx="301.8" cy="453.4" r="3.9"/>
<circle cx="379.1" cy="535.5" r="3.9"/>
<circle cx="375.4" cy="545.6" r="3.9"/>
<circle cx="346.9" cy="623.9" r="3.9"/>
<circle cx="332.0" cy="553.2" r="3.9"/>
<circle cx="316.4" cy="483.2" r="3.9"/>
<circle cx="453.1" cy="562.1" r="3.9"/>
<circle cx="318.1" cy="484.5" r="3.9"/>
<circle cx="439.9" cy="454.4" r="3.9"/>
<circle cx="399.7" cy="646.9" r="3.9"/>
<circle cx="359.2" cy="539.6" r="3.9"/>
<circle cx="421.0" cy="449.8" r="3.9"/>
<circle cx="411.1" cy="487.0" r="3.9"/>
<circle cx="492.3" cy="447.8" r="3.9"/>
<circle cx="393.0" cy="478.1" r="3.9"/>
<circle cx="453.7" cy="509.6" r="3.9"/>
<circle cx="307.7" cy="454.2" r="3.9"/>
<circle cx="284.0" cy="424.9" r="3.9"/>
<circle cx="467.2" cy="428.9" r="3.9"/>
<circle cx="470.4" cy="556.0" r="3.9"/>
<circle cx="407.7" cy="528.4" r="3.9"/>
<circle cx="389.2" cy="596.1" r="3.9"/>
<circle cx="385.3" cy="597.4" r="3.9"/>
<circle cx="329.8" cy="500.4" r="3.9"/>
<circle cx="474.5" cy="571.2" r="3.9"/>
<circle cx="417.3" cy="423.4" r="3.9"/>
<circle cx="407.4" cy="684.1" r="3.9"/>
<circle cx="398.9" cy="607.9" r="3.9"/>
<circle cx="442.6" cy="509.2" r="3.9"/>
<circle cx="407.3" cy="442.8" r="3.9"/>
<circle cx="422.9" cy="550.9" r="3.9"/>
<circle cx="298.5" cy="393.3" r="3.9"/>
<circle cx="407.7" cy="469.7" r="3.9"/>
<circle cx="516.7" cy="576.7" r="3.9"/>
<circle cx="340.8" cy="529.5" r="3.9"/>
<circle cx="366.1" cy="489.9" r="3.9"/>
<circle cx="432.5" cy="590.8" r="3.9"/>
<circle cx="436.7" cy="451.5" r="3.9"/>
<circle cx="415.1" cy="544.2" r="3.9"/>
<circle cx="269.4" cy="489.4" r="3.9"/>
<circle cx="407.1" cy="464.9" r="3.9"/>
<circle cx="297.6" cy="556.7" r="3.9"/>
<circle cx="320.9" cy="454.7" r="3.9"/>
<circle cx="410.1" cy="657.4" r="3.9"/>
<circle cx="355.3" cy="483.3" r="3.9"/>
<circle cx="427.1" cy="663.5" r="3.9"/>
<circle cx="579.1" cy="447.7" r="3.9"/>
<circle cx="425.0" cy="566.7" r="3.9"/>
<circle cx="421.5" cy="440.3" r="3.9"/>
<circle cx="316.3" cy="430.4" r="3.9"/>
<circle cx="332.7" cy="535.4" r="3.9"/>
</g>
<line x1="119.5" y1="508.5" x2="634.5" y2="541.5" stroke="#b5474b" stroke-width="8.6"/>
<line x1="119.5" y1="500.7" x2="634.5" y2="548.1" stroke="#b5474b" stroke-width="8.6" stroke-dasharray="24.5 25.2"/>
<path d="M119.5,266.2 V781.3 H634.5" fill="none" stroke="#262626" stroke-width="2"/>
<line x1="119.5" y1="266.1" x2="125.5" y2="266.1" stroke="#262626" stroke-width="2"/>
<line x1="119.5" y1="394.9" x2="125.5" y2="394.9" stroke="#262626" stroke-width="2"/>
<line x1="119.5" y1="523.8" x2="125.5" y2="523.8" stroke="#262626" stroke-width="2"/>
<line x1="119.5" y1="652.5" x2="125.5" y2="652.5" stroke="#262626" stroke-width="2"/>
<line x1="119.5" y1="781.4" x2="125.5" y2="781.4" stroke="#262626" stroke-width="2"/>
<line x1="205.0" y1="781.3" x2="205.0" y2="775.3" stroke="#262626" stroke-width="2"/>
<line x1="376.5" y1="781.3" x2="376.5" y2="775.3" stroke="#262626" stroke-width="2"/>
<line x1="548.0" y1="781.3" x2="548.0" y2="775.3" stroke="#262626" stroke-width="2"/>
<text transform="translate(108.1,282.1) scale(1,1.04)" font-size="36.3" text-anchor="end" fill="#262626">0.4</text>
<text transform="translate(108.1,410.9) scale(1,1.04)" font-size="36.3" text-anchor="end" fill="#262626">0.2</text>
<text transform="translate(108.1,539.8) scale(1,1.04)" font-size="36.3" text-anchor="end" fill="#262626">0</text>
<text transform="translate(108.1,668.5) scale(1,1.04)" font-size="36.3" text-anchor="end" fill="#262626">-0.2</text>
<text transform="translate(108.1,797.4) scale(1,1.04)" font-size="36.3" text-anchor="end" fill="#262626">-0.4</text>
<text transform="translate(175.0,829.5) scale(1,1.04)" font-size="36.3" text-anchor="start" fill="#262626">-0.</text>
<path d="M226.4,804.3 H229.3 V829.3 H226.4 Z M228.1,804.3 L226.4,808.7 L218.7,813.7 L218.7,810.9 Z" fill="#262626"/>
<text transform="translate(375.3,829.8) scale(1,1.04)" font-size="36.3" text-anchor="middle" fill="#262626">0</text>
<text transform="translate(522.6,829.8) scale(1,1.04)" font-size="36.3" text-anchor="start" fill="#262626">0.</text>
<path d="M563.1,804.2 H566.0 V829.5 H563.1 Z M564.8,804.2 L563.1,808.6 L555.4,813.6 L555.4,810.8 Z" fill="#262626"/>
<text x="372" y="890" font-size="41.8" text-anchor="middle" fill="#262626">Choice vector weight (arb. units)</text>
<text transform="translate(30,526) rotate(-90)" x="0" y="0" font-size="41.8" text-anchor="middle" fill="#262626">Chosen value weight (arb. units)</text>
<text x="755" y="36" font-size="50" font-weight="bold" fill="#000">b</text>
<text x="1131.5" y="40" font-size="38" font-weight="bold" text-anchor="middle" fill="#000">Choice decoding with chosen</text>
<text x="1131.5" y="89" font-size="38" font-weight="bold" text-anchor="middle" fill="#000">value dimension removed</text>
<line x1="968.9" y1="131.5" x2="1016.5" y2="131.5" stroke="#999999" stroke-width="8"/>
<text x="1026.5" y="143.5" font-size="31.9" fill="#000">All dimensions</text>
<line x1="968.9" y1="176.5" x2="1016.5" y2="176.5" stroke="#0b3a70" stroke-width="8"/>
<text x="1026.5" y="188.5" font-size="31.9" fill="#000">Value subspace</text>
<line x1="968.9" y1="221.7" x2="1016.5" y2="221.7" stroke="#d77b22" stroke-width="8"/>
<text x="1026.5" y="233.2" font-size="31.9" fill="#000">Value-orth. subspace</text>
<line x1="1073.9" y1="266.1" x2="1073.9" y2="781.3" stroke="#dcdcdc" stroke-width="1.5"/>
<line x1="1183.3" y1="266.1" x2="1183.3" y2="781.3" stroke="#dcdcdc" stroke-width="1.5"/>
<line x1="1292.7" y1="266.1" x2="1292.7" y2="781.3" stroke="#dcdcdc" stroke-width="1.5"/>
<line x1="855.4" y1="634.0" x2="1403.0" y2="634.0" stroke="#dcdcdc" stroke-width="1.5"/>
<line x1="855.4" y1="560.4" x2="1403.0" y2="560.4" stroke="#dcdcdc" stroke-width="1.5"/>
<line x1="855.4" y1="486.9" x2="1403.0" y2="486.9" stroke="#dcdcdc" stroke-width="1.5"/>
<line x1="855.4" y1="413.3" x2="1403.0" y2="413.3" stroke="#dcdcdc" stroke-width="1.5"/>
<line x1="855.4" y1="339.7" x2="1403.0" y2="339.7" stroke="#dcdcdc" stroke-width="1.5"/>
<line x1="855.4" y1="266.1" x2="1403.0" y2="266.1" stroke="#dcdcdc" stroke-width="1.5"/>
<line x1="964.5" y1="266.1" x2="964.5" y2="781.3" stroke="#000" stroke-width="2"/>
<line x1="855.4" y1="707.6" x2="1403.0" y2="707.6" stroke="#000" stroke-width="2"/>
<path d="M855.4,708.2 L869.1,718.3 L882.8,677.0 L896.5,676.3 L910.2,655.4 L923.9,648.9 L937.5,658.6 L951.2,658.7 L964.9,646.7 L978.6,633.4 L992.3,658.5 L1006.0,642.5 L1019.7,607.6 L1033.4,624.5 L1047.1,573.2 L1060.8,555.8 L1074.4,540.4 L1088.1,503.6 L1101.8,472.8 L1115.5,438.7 L1129.2,395.5 L1142.9,363.9 L1156.6,356.8 L1170.3,365.7 L1184.0,365.5 L1197.7,360.1 L1211.3,337.6 L1225.0,323.9 L1238.7,356.2 L1252.4,374.8 L1266.1,379.9 L1279.8,386.5 L1293.5,421.7 L1307.2,399.8 L1320.9,393.6 L1334.5,392.1 L1348.2,408.8 L1361.9,444.6 L1375.6,481.2 L1389.3,461.2 L1402.5,495.4 L1402.5,569.8 L1389.3,549.5 L1375.6,567.2 L1361.9,528.8 L1348.2,501.1 L1334.5,468.7 L1320.9,465.3 L1307.2,481.2 L1293.5,506.9 L1279.8,489.4 L1266.1,475.5 L1252.4,459.3 L1238.7,463.5 L1225.0,427.3 L1211.3,435.0 L1197.7,449.0 L1184.0,451.9 L1170.3,459.7 L1156.6,456.1 L1142.9,465.0 L1129.2,481.1 L1115.5,534.8 L1101.8,572.6 L1088.1,606.3 L1074.4,646.6 L1060.8,648.5 L1047.1,648.1 L1033.4,685.2 L1019.7,674.2 L1006.0,697.7 L992.3,719.0 L978.6,702.6 L964.9,710.5 L951.2,715.1 L937.5,717.5 L923.9,710.2 L910.2,718.1 L896.5,734.8 L882.8,738.6 L869.1,773.3 L855.4,772.9 Z" fill="rgba(153,153,153,0.35)" stroke="none"/>
<path d="M855.4,738.0 L869.1,742.0 L882.8,712.0 L896.5,700.0 L910.2,688.0 L923.9,680.0 L937.5,684.0 L951.2,690.0 L964.9,676.0 L978.6,670.0 L992.3,685.0 L1006.0,672.0 L1019.7,640.0 L1033.4,655.0 L1047.1,615.0 L1060.8,600.0 L1074.4,593.5 L1088.1,553.0 L1101.8,525.0 L1115.5,490.0 L1129.2,440.0 L1142.9,415.0 L1156.6,405.0 L1170.3,407.0 L1184.0,407.0 L1197.7,405.0 L1211.3,385.0 L1225.0,375.0 L1238.7,409.0 L1252.4,416.2 L1266.1,427.7 L1279.8,437.9 L1293.5,464.0 L1307.2,437.9 L1320.9,432.0 L1334.5,426.3 L1348.2,455.2 L1361.9,484.2 L1375.6,521.8 L1389.3,507.3 L1402.5,533.4" fill="none" stroke="#9a9a9a" stroke-width="8" stroke-linejoin="round" stroke-linecap="butt"/>
<path d="M855.4,704.7 L869.1,713.2 L882.8,682.4 L896.5,663.8 L910.2,649.4 L923.9,674.2 L937.5,654.6 L951.2,649.8 L964.9,632.8 L978.6,632.7 L992.3,644.9 L1006.0,638.1 L1019.7,605.6 L1033.4,627.9 L1047.1,556.4 L1060.8,523.4 L1074.4,500.5 L1088.1,478.1 L1101.8,471.5 L1115.5,449.6 L1129.2,402.8 L1142.9,395.7 L1156.6,358.2 L1170.3,363.4 L1184.0,347.0 L1197.7,341.4 L1211.3,338.3 L1225.0,348.4 L1238.7,342.5 L1252.4,350.0 L1266.1,388.7 L1279.8,434.7 L1293.5,443.7 L1307.2,446.4 L1320.9,442.4 L1334.5,439.1 L1348.2,484.0 L1361.9,493.8 L1375.6,520.7 L1389.3,526.3 L1402.5,552.9 L1402.5,620.5 L1389.3,596.8 L1375.6,592.4 L1361.9,571.1 L1348.2,556.0 L1334.5,522.9 L1320.9,516.5 L1307.2,522.7 L1293.5,525.2 L1279.8,519.4 L1266.1,489.0 L1252.4,445.6 L1238.7,439.7 L1225.0,435.5 L1211.3,428.0 L1197.7,419.9 L1184.0,444.2 L1170.3,442.8 L1156.6,437.3 L1142.9,487.0 L1129.2,490.5 L1115.5,539.4 L1101.8,558.7 L1088.1,564.2 L1074.4,587.7 L1060.8,603.8 L1047.1,636.1 L1033.4,686.9 L1019.7,665.2 L1006.0,702.6 L992.3,697.4 L978.6,687.3 L964.9,683.5 L951.2,704.4 L937.5,709.0 L923.9,725.3 L910.2,699.7 L896.5,726.2 L882.8,732.0 L869.1,774.6 L855.4,763.6 Z" fill="rgba(11,58,112,0.34)" stroke="none"/>
<path d="M855.4,735.0 L869.1,743.0 L882.8,705.0 L896.5,696.5 L910.2,675.0 L923.9,698.0 L937.5,686.0 L951.2,683.0 L964.9,663.0 L978.6,657.5 L992.3,671.0 L1006.0,670.0 L1019.7,633.5 L1033.4,657.0 L1047.1,593.5 L1060.8,562.0 L1074.4,539.0 L1088.1,520.5 L1101.8,518.0 L1115.5,499.0 L1129.2,450.0 L1142.9,440.5 L1156.6,397.7 L1170.3,404.5 L1184.0,394.5 L1197.7,380.5 L1211.3,383.7 L1225.0,390.7 L1238.7,393.0 L1252.4,400.5 L1266.1,437.9 L1279.8,472.6 L1293.5,482.7 L1307.2,481.3 L1320.9,478.4 L1334.5,478.4 L1348.2,521.8 L1361.9,530.5 L1375.6,553.6 L1389.3,565.2 L1402.5,585.4" fill="none" stroke="#0b3a70" stroke-width="8" stroke-linejoin="round" stroke-linecap="butt"/>
<path d="M855.4,681.7 L869.1,709.8 L882.8,695.7 L896.5,685.2 L910.2,671.8 L923.9,669.1 L937.5,679.7 L951.2,693.7 L964.9,676.3 L978.6,658.6 L992.3,688.5 L1006.0,644.2 L1019.7,624.0 L1033.4,614.7 L1047.1,583.3 L1060.8,607.7 L1074.4,597.0 L1088.1,577.6 L1101.8,553.7 L1115.5,516.1 L1129.2,500.0 L1142.9,505.3 L1156.6,486.2 L1170.3,500.4 L1184.0,501.5 L1197.7,495.7 L1211.3,478.8 L1225.0,471.8 L1238.7,502.4 L1252.4,489.4 L1266.1,476.2 L1279.8,487.3 L1293.5,504.3 L1307.2,476.8 L1320.9,455.6 L1334.5,452.8 L1348.2,485.9 L1361.9,495.0 L1375.6,535.1 L1389.3,522.4 L1402.5,542.5 L1402.5,607.1 L1389.3,593.1 L1375.6,609.0 L1361.9,559.6 L1348.2,556.4 L1334.5,517.2 L1320.9,529.9 L1307.2,537.6 L1293.5,580.2 L1279.8,572.0 L1266.1,560.6 L1252.4,564.0 L1238.7,586.7 L1225.0,550.5 L1211.3,550.6 L1197.7,575.4 L1184.0,567.9 L1170.3,584.9 L1156.6,565.9 L1142.9,578.2 L1129.2,586.5 L1115.5,590.5 L1101.8,622.8 L1088.1,653.1 L1074.4,674.6 L1060.8,671.2 L1047.1,638.9 L1033.4,673.7 L1019.7,670.1 L1006.0,694.8 L992.3,733.0 L978.6,711.7 L964.9,719.5 L951.2,751.4 L937.5,722.4 L923.9,723.3 L910.2,729.1 L896.5,731.0 L882.8,744.0 L869.1,764.1 L855.4,737.7 Z" fill="rgba(215,123,34,0.30)" stroke="none"/>
<path d="M855.4,711.5 L869.1,737.5 L882.8,715.5 L896.5,708.0 L910.2,701.5 L923.9,694.0 L937.5,704.0 L951.2,722.5 L964.9,697.0 L978.6,688.0 L992.3,714.0 L1006.0,668.0 L1019.7,649.0 L1033.4,641.0 L1047.1,611.0 L1060.8,635.8 L1074.4,638.0 L1088.1,613.5 L1101.8,589.0 L1115.5,557.0 L1129.2,545.0 L1142.9,536.7 L1156.6,527.0 L1170.3,541.0 L1184.0,534.0 L1197.7,532.5 L1211.3,517.2 L1225.0,506.0 L1238.7,547.0 L1252.4,524.5 L1266.1,516.0 L1279.8,530.5 L1293.5,539.1 L1307.2,507.3 L1320.9,495.7 L1334.5,487.0 L1348.2,524.7 L1361.9,527.6 L1375.6,568.0 L1389.3,562.3 L1402.5,573.9" fill="none" stroke="#d77b22" stroke-width="8" stroke-linejoin="round" stroke-linecap="butt"/>
<rect x="1041.8" y="272.9" width="9" height="9" fill="#a0a0a0"/>
<rect x="1055.5" y="272.9" width="9" height="9" fill="#a0a0a0"/>
<rect x="1069.1" y="272.9" width="9" height="9" fill="#a0a0a0"/>
<rect x="1082.8" y="272.9" width="9" height="9" fill="#a0a0a0"/>
<rect x="1096.5" y="272.9" width="9" height="9" fill="#a0a0a0"/>
<rect x="1110.2" y="272.9" width="9" height="9" fill="#a0a0a0"/>
<rect x="1123.9" y="272.9" width="9" height="9" fill="#a0a0a0"/>
<rect x="1137.6" y="272.9" width="9" height="9" fill="#a0a0a0"/>
<rect x="1151.3" y="272.9" width="9" height="9" fill="#a0a0a0"/>
<rect x="1165.0" y="272.9" width="9" height="9" fill="#a0a0a0"/>
<rect x="1178.7" y="272.9" width="9" height="9" fill="#a0a0a0"/>
<rect x="1192.4" y="272.9" width="9" height="9" fill="#a0a0a0"/>
<rect x="1206.0" y="272.9" width="9" height="9" fill="#a0a0a0"/>
<rect x="1219.7" y="272.9" width="9" height="9" fill="#a0a0a0"/>
<rect x="1233.4" y="272.9" width="9" height="9" fill="#a0a0a0"/>
<rect x="1247.1" y="272.9" width="9" height="9" fill="#a0a0a0"/>
<rect x="1260.8" y="272.9" width="9" height="9" fill="#a0a0a0"/>
<rect x="1274.5" y="272.9" width="9" height="9" fill="#a0a0a0"/>
<rect x="1288.2" y="272.9" width="9" height="9" fill="#a0a0a0"/>
<rect x="1301.9" y="272.9" width="9" height="9" fill="#a0a0a0"/>
<rect x="1315.6" y="272.9" width="9" height="9" fill="#a0a0a0"/>
<rect x="1329.2" y="272.9" width="9" height="9" fill="#a0a0a0"/>
<rect x="1342.9" y="272.9" width="9" height="9" fill="#a0a0a0"/>
<rect x="1356.6" y="272.9" width="9" height="9" fill="#a0a0a0"/>
<rect x="1370.3" y="272.9" width="9" height="9" fill="#a0a0a0"/>
<rect x="1384.0" y="272.9" width="9" height="9" fill="#a0a0a0"/>
<rect x="1397.2" y="272.9" width="9" height="9" fill="#a0a0a0"/>
<rect x="1055.5" y="284.2" width="9" height="9" fill="#0b3a70"/>
<rect x="1069.1" y="284.2" width="9" height="9" fill="#0b3a70"/>
<rect x="1082.8" y="284.2" width="9" height="9" fill="#0b3a70"/>
<rect x="1096.5" y="284.2" width="9" height="9" fill="#0b3a70"/>
<rect x="1110.2" y="284.2" width="9" height="9" fill="#0b3a70"/>
<rect x="1123.9" y="284.2" width="9" height="9" fill="#0b3a70"/>
<rect x="1137.6" y="284.2" width="9" height="9" fill="#0b3a70"/>
<rect x="1151.3" y="284.2" width="9" height="9" fill="#0b3a70"/>
<rect x="1165.0" y="284.2" width="9" height="9" fill="#0b3a70"/>
<rect x="1178.7" y="284.2" width="9" height="9" fill="#0b3a70"/>
<rect x="1192.4" y="284.2" width="9" height="9" fill="#0b3a70"/>
<rect x="1206.0" y="284.2" width="9" height="9" fill="#0b3a70"/>
<rect x="1219.7" y="284.2" width="9" height="9" fill="#0b3a70"/>
<rect x="1233.4" y="284.2" width="9" height="9" fill="#0b3a70"/>
<rect x="1247.1" y="284.2" width="9" height="9" fill="#0b3a70"/>
<rect x="1260.8" y="284.2" width="9" height="9" fill="#0b3a70"/>
<rect x="1274.5" y="284.2" width="9" height="9" fill="#0b3a70"/>
<rect x="1288.2" y="284.2" width="9" height="9" fill="#0b3a70"/>
<rect x="1301.9" y="284.2" width="9" height="9" fill="#0b3a70"/>
<rect x="1315.6" y="284.2" width="9" height="9" fill="#0b3a70"/>
<rect x="1329.2" y="284.2" width="9" height="9" fill="#0b3a70"/>
<rect x="1342.9" y="284.2" width="9" height="9" fill="#0b3a70"/>
<rect x="1356.6" y="284.2" width="9" height="9" fill="#0b3a70"/>
<rect x="1384.0" y="284.2" width="9" height="9" fill="#0b3a70"/>
<rect x="1041.8" y="296.1" width="9" height="9" fill="#d87a1e"/>
<rect x="1096.5" y="296.1" width="9" height="9" fill="#d87a1e"/>
<rect x="1110.2" y="296.1" width="9" height="9" fill="#d87a1e"/>
<rect x="1123.9" y="296.1" width="9" height="9" fill="#d87a1e"/>
<rect x="1137.6" y="296.1" width="9" height="9" fill="#d87a1e"/>
<rect x="1151.3" y="296.1" width="9" height="9" fill="#d87a1e"/>
<rect x="1165.0" y="296.1" width="9" height="9" fill="#d87a1e"/>
<rect x="1178.7" y="296.1" width="9" height="9" fill="#d87a1e"/>
<rect x="1192.4" y="296.1" width="9" height="9" fill="#d87a1e"/>
<rect x="1206.0" y="296.1" width="9" height="9" fill="#d87a1e"/>
<rect x="1219.7" y="296.1" width="9" height="9" fill="#d87a1e"/>
<rect x="1233.4" y="296.1" width="9" height="9" fill="#d87a1e"/>
<rect x="1247.1" y="296.1" width="9" height="9" fill="#d87a1e"/>
<rect x="1260.8" y="296.1" width="9" height="9" fill="#d87a1e"/>
<rect x="1274.5" y="296.1" width="9" height="9" fill="#d87a1e"/>
<rect x="1288.2" y="296.1" width="9" height="9" fill="#d87a1e"/>
<rect x="1301.9" y="296.1" width="9" height="9" fill="#d87a1e"/>
<rect x="1315.6" y="296.1" width="9" height="9" fill="#d87a1e"/>
<rect x="1329.2" y="296.1" width="9" height="9" fill="#d87a1e"/>
<rect x="1342.9" y="296.1" width="9" height="9" fill="#d87a1e"/>
<rect x="1356.6" y="296.1" width="9" height="9" fill="#d87a1e"/>
<rect x="1370.3" y="296.1" width="9" height="9" fill="#d87a1e"/>
<rect x="1384.0" y="296.1" width="9" height="9" fill="#d87a1e"/>
<rect x="1397.2" y="296.1" width="9" height="9" fill="#d87a1e"/>
<path d="M855.4,266.1 V781.3 H1403.0" fill="none" stroke="#262626" stroke-width="2"/>
<line x1="855.4" y1="707.6" x2="861.4" y2="707.6" stroke="#262626" stroke-width="2"/>
<line x1="855.4" y1="634.0" x2="861.4" y2="634.0" stroke="#262626" stroke-width="2"/>
<line x1="855.4" y1="560.4" x2="861.4" y2="560.4" stroke="#262626" stroke-width="2"/>
<line x1="855.4" y1="486.9" x2="861.4" y2="486.9" stroke="#262626" stroke-width="2"/>
<line x1="855.4" y1="413.3" x2="861.4" y2="413.3" stroke="#262626" stroke-width="2"/>
<line x1="855.4" y1="339.7" x2="861.4" y2="339.7" stroke="#262626" stroke-width="2"/>
<line x1="855.4" y1="266.1" x2="861.4" y2="266.1" stroke="#262626" stroke-width="2"/>
<line x1="855.1" y1="781.3" x2="855.1" y2="775.3" stroke="#262626" stroke-width="2"/>
<line x1="964.5" y1="781.3" x2="964.5" y2="775.3" stroke="#262626" stroke-width="2"/>
<line x1="1073.9" y1="781.3" x2="1073.9" y2="775.3" stroke="#262626" stroke-width="2"/>
<line x1="1183.3" y1="781.3" x2="1183.3" y2="775.3" stroke="#262626" stroke-width="2"/>
<line x1="1292.7" y1="781.3" x2="1292.7" y2="775.3" stroke="#262626" stroke-width="2"/>
<text transform="translate(846.2,722.2) scale(1,1.04)" font-size="36.3" text-anchor="end" fill="#262626">0.5</text>
<text transform="translate(843.8,648.6) scale(1,1.04)" font-size="36.3" text-anchor="end" fill="#262626">0.52</text>
<text transform="translate(843.8,575.0) scale(1,1.04)" font-size="36.3" text-anchor="end" fill="#262626">0.54</text>
<text transform="translate(843.8,501.5) scale(1,1.04)" font-size="36.3" text-anchor="end" fill="#262626">0.56</text>
<text transform="translate(843.8,427.9) scale(1,1.04)" font-size="36.3" text-anchor="end" fill="#262626">0.58</text>
<text transform="translate(843.8,354.3) scale(1,1.04)" font-size="36.3" text-anchor="end" fill="#262626">0.60</text>
<text transform="translate(843.8,280.7) scale(1,1.04)" font-size="36.3" text-anchor="end" fill="#262626">0.62</text>
<text transform="translate(854.3,828.2) scale(1,1.04)" font-size="36.3" text-anchor="middle" fill="#262626">-0.2</text>
<text transform="translate(962.7,828.2) scale(1,1.04)" font-size="36.3" text-anchor="middle" fill="#262626">0</text>
<text transform="translate(1056.9,828.2) scale(1,1.04)" font-size="36.3" text-anchor="middle" fill="#262626">0.2</text>
<text transform="translate(1165.5,828.2) scale(1,1.04)" font-size="36.3" text-anchor="middle" fill="#262626">0.4</text>
<text transform="translate(1275.6,828.2) scale(1,1.04)" font-size="36.3" text-anchor="middle" fill="#262626">0.6</text>
<line x1="1101.5" y1="770.4" x2="1393.3" y2="770.4" stroke="#808080" stroke-width="2"/>
<rect x="1166.3" y="763.5" width="88.6" height="14.8" fill="#fff" stroke="#808080" stroke-width="2"/>
<rect x="1201.5" y="764" width="7.7" height="13.8" fill="#808080"/>
<text x="1142" y="890" font-size="41.8" text-anchor="middle" fill="#262626">Time from 2nd target view (s)</text>
<text transform="translate(755,509.5) rotate(-90)" x="0" y="0" font-size="41.8" text-anchor="middle" fill="#262626">Aren under ROC curve</text>
</svg></body></html>
